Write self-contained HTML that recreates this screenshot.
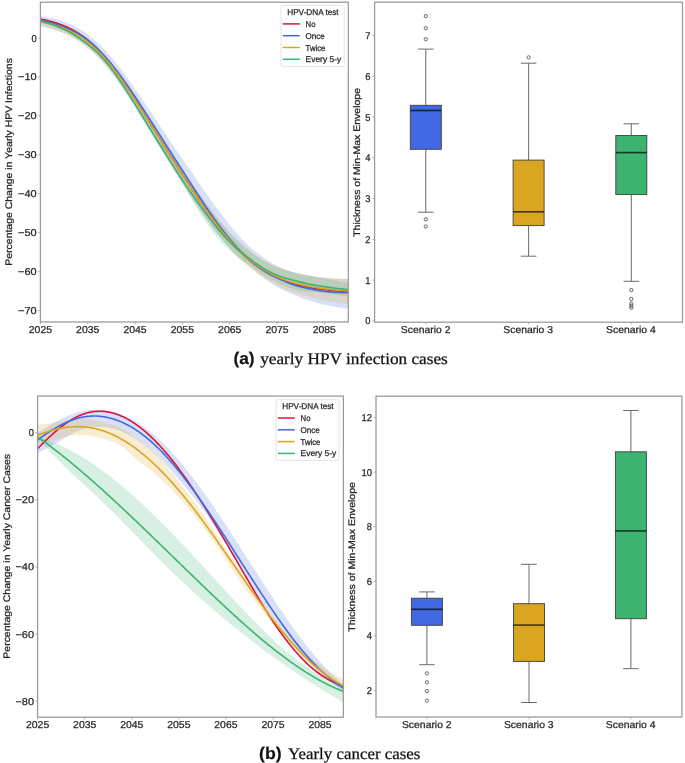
<!DOCTYPE html><html><head><meta charset="utf-8"><style>html,body{margin:0;padding:0;background:#fff;}svg{display:block;will-change:transform;text-rendering:geometricPrecision;}</style></head><body>
<svg width="685" height="763" viewBox="0 0 685 763">
<rect width="685" height="763" fill="#fff"/>
<defs>
<clipPath id="ctl"><rect x="40.40" y="2.20" width="307.90" height="319.80"/></clipPath>
<clipPath id="cbl"><rect x="37.60" y="396.10" width="305.80" height="321.10"/></clipPath>
</defs>
<g clip-path="url(#ctl)">
<path d="M40.40,16.15 L41.40,16.29 L42.40,16.44 L43.40,16.59 L44.40,16.75 L45.40,16.92 L46.40,17.10 L47.40,17.28 L48.40,17.48 L49.40,17.68 L50.40,17.88 L51.40,18.10 L52.40,18.33 L53.40,18.56 L54.40,18.81 L55.40,19.06 L56.40,19.33 L57.40,19.61 L58.40,19.89 L59.40,20.19 L60.40,20.50 L61.40,20.82 L62.40,21.15 L63.40,21.50 L64.40,21.85 L65.40,22.22 L66.40,22.60 L67.40,23.00 L68.40,23.41 L69.40,23.84 L70.40,24.27 L71.40,24.73 L72.40,25.20 L73.40,25.68 L74.40,26.18 L75.40,26.70 L76.40,27.24 L77.40,27.79 L78.40,28.36 L79.40,28.94 L80.40,29.55 L81.40,30.17 L82.40,30.81 L83.40,31.47 L84.40,32.14 L85.40,32.83 L86.40,33.55 L87.40,34.28 L88.40,35.02 L89.40,35.79 L90.40,36.58 L91.40,37.38 L92.40,38.21 L93.40,39.05 L94.40,39.91 L95.40,40.79 L96.40,41.69 L97.40,42.61 L98.40,43.55 L99.40,44.51 L100.40,45.48 L101.40,46.48 L102.40,47.49 L103.40,48.52 L104.40,49.57 L105.40,50.64 L106.40,51.72 L107.40,52.83 L108.40,53.95 L109.40,55.09 L110.40,56.24 L111.40,57.42 L112.40,58.61 L113.40,59.82 L114.40,61.04 L115.40,62.28 L116.40,63.53 L117.40,64.80 L118.40,66.09 L119.40,67.39 L120.40,68.70 L121.40,70.02 L122.40,71.36 L123.40,72.71 L124.40,74.08 L125.40,75.45 L126.40,76.84 L127.40,78.23 L128.40,79.64 L129.40,81.05 L130.40,82.47 L131.40,83.89 L132.40,85.31 L133.40,86.74 L134.40,88.17 L135.40,89.60 L136.40,91.03 L137.40,92.47 L138.40,93.91 L139.40,95.36 L140.40,96.81 L141.40,98.26 L142.40,99.72 L143.40,101.18 L144.40,102.64 L145.40,104.11 L146.40,105.58 L147.40,107.06 L148.40,108.55 L149.40,110.04 L150.40,111.53 L151.40,113.03 L152.40,114.53 L153.40,116.03 L154.40,117.54 L155.40,119.04 L156.40,120.55 L157.40,122.05 L158.40,123.56 L159.40,125.06 L160.40,126.57 L161.40,128.07 L162.40,129.57 L163.40,131.08 L164.40,132.58 L165.40,134.07 L166.40,135.57 L167.40,137.07 L168.40,138.56 L169.40,140.05 L170.40,141.54 L171.40,143.02 L172.40,144.50 L173.40,145.98 L174.40,147.45 L175.40,148.90 L176.40,150.36 L177.40,151.80 L178.40,153.24 L179.40,154.67 L180.40,156.10 L181.40,157.53 L182.40,158.95 L183.40,160.38 L184.40,161.80 L185.40,163.23 L186.40,164.65 L187.40,166.08 L188.40,167.52 L189.40,168.95 L190.40,170.40 L191.40,171.85 L192.40,173.30 L193.40,174.76 L194.40,176.24 L195.40,177.72 L196.40,179.21 L197.40,180.69 L198.40,182.18 L199.40,183.66 L200.40,185.13 L201.40,186.59 L202.40,188.05 L203.40,189.51 L204.40,190.96 L205.40,192.40 L206.40,193.83 L207.40,195.25 L208.40,196.67 L209.40,198.08 L210.40,199.47 L211.40,200.86 L212.40,202.24 L213.40,203.61 L214.40,204.97 L215.40,206.32 L216.40,207.66 L217.40,208.98 L218.40,210.30 L219.40,211.60 L220.40,212.90 L221.40,214.20 L222.40,215.50 L223.40,216.80 L224.40,218.09 L225.40,219.38 L226.40,220.66 L227.40,221.94 L228.40,223.20 L229.40,224.46 L230.40,225.71 L231.40,226.94 L232.40,228.17 L233.40,229.37 L234.40,230.57 L235.40,231.75 L236.40,232.91 L237.40,234.05 L238.40,235.17 L239.40,236.28 L240.40,237.37 L241.40,238.44 L242.40,239.52 L243.40,240.58 L244.40,241.63 L245.40,242.66 L246.40,243.67 L247.40,244.66 L248.40,245.62 L249.40,246.54 L250.40,247.44 L251.40,248.31 L252.40,249.16 L253.40,249.98 L254.40,250.79 L255.40,251.58 L256.40,252.35 L257.40,253.10 L258.40,253.84 L259.40,254.57 L260.40,255.28 L261.40,255.98 L262.40,256.66 L263.40,257.34 L264.40,258.01 L265.40,258.67 L266.40,259.33 L267.40,259.98 L268.40,260.63 L269.40,261.27 L270.40,261.90 L271.40,262.52 L272.40,263.13 L273.40,263.72 L274.40,264.30 L275.40,264.86 L276.40,265.40 L277.40,265.92 L278.40,266.41 L279.40,266.89 L280.40,267.33 L281.40,267.77 L282.40,268.19 L283.40,268.60 L284.40,269.01 L285.40,269.40 L286.40,269.78 L287.40,270.15 L288.40,270.50 L289.40,270.85 L290.40,271.19 L291.40,271.51 L292.40,271.83 L293.40,272.13 L294.40,272.42 L295.40,272.70 L296.40,272.97 L297.40,273.23 L298.40,273.49 L299.40,273.73 L300.40,273.97 L301.40,274.20 L302.40,274.42 L303.40,274.63 L304.40,274.84 L305.40,275.04 L306.40,275.23 L307.40,275.42 L308.40,275.59 L309.40,275.77 L310.40,275.93 L311.40,276.09 L312.40,276.25 L313.40,276.40 L314.40,276.54 L315.40,276.68 L316.40,276.82 L317.40,276.95 L318.40,277.07 L319.40,277.20 L320.40,277.31 L321.40,277.43 L322.40,277.54 L323.40,277.64 L324.40,277.74 L325.40,277.84 L326.40,277.94 L327.40,278.03 L328.40,278.11 L329.40,278.20 L330.40,278.27 L331.40,278.35 L332.40,278.42 L333.40,278.48 L334.40,278.55 L335.40,278.60 L336.40,278.66 L337.40,278.71 L338.40,278.76 L339.40,278.81 L340.40,278.85 L341.40,278.89 L342.40,278.93 L343.40,278.96 L344.40,278.99 L345.40,279.02 L346.40,279.05 L347.40,279.07 L348.30,279.09 L348.30,308.82 L347.40,308.70 L346.40,308.57 L345.40,308.44 L344.40,308.30 L343.40,308.15 L342.40,308.01 L341.40,307.85 L340.40,307.70 L339.40,307.54 L338.40,307.38 L337.40,307.21 L336.40,307.04 L335.40,306.87 L334.40,306.69 L333.40,306.51 L332.40,306.32 L331.40,306.13 L330.40,305.94 L329.40,305.74 L328.40,305.53 L327.40,305.33 L326.40,305.11 L325.40,304.90 L324.40,304.68 L323.40,304.45 L322.40,304.22 L321.40,303.99 L320.40,303.75 L319.40,303.50 L318.40,303.25 L317.40,302.99 L316.40,302.73 L315.40,302.45 L314.40,302.17 L313.40,301.88 L312.40,301.58 L311.40,301.28 L310.40,300.97 L309.40,300.66 L308.40,300.33 L307.40,300.00 L306.40,299.67 L305.40,299.32 L304.40,298.97 L303.40,298.62 L302.40,298.26 L301.40,297.89 L300.40,297.51 L299.40,297.13 L298.40,296.75 L297.40,296.36 L296.40,295.96 L295.40,295.55 L294.40,295.14 L293.40,294.72 L292.40,294.30 L291.40,293.86 L290.40,293.42 L289.40,292.96 L288.40,292.50 L287.40,292.03 L286.40,291.55 L285.40,291.06 L284.40,290.56 L283.40,290.06 L282.40,289.54 L281.40,289.01 L280.40,288.48 L279.40,287.93 L278.40,287.37 L277.40,286.81 L276.40,286.23 L275.40,285.64 L274.40,285.05 L273.40,284.44 L272.40,283.82 L271.40,283.19 L270.40,282.55 L269.40,281.89 L268.40,281.22 L267.40,280.52 L266.40,279.81 L265.40,279.08 L264.40,278.33 L263.40,277.56 L262.40,276.79 L261.40,276.00 L260.40,275.20 L259.40,274.39 L258.40,273.58 L257.40,272.76 L256.40,271.94 L255.40,271.11 L254.40,270.29 L253.40,269.46 L252.40,268.64 L251.40,267.82 L250.40,267.01 L249.40,266.20 L248.40,265.38 L247.40,264.55 L246.40,263.72 L245.40,262.87 L244.40,262.01 L243.40,261.13 L242.40,260.25 L241.40,259.36 L240.40,258.45 L239.40,257.53 L238.40,256.60 L237.40,255.65 L236.40,254.69 L235.40,253.72 L234.40,252.74 L233.40,251.74 L232.40,250.73 L231.40,249.70 L230.40,248.66 L229.40,247.61 L228.40,246.54 L227.40,245.46 L226.40,244.36 L225.40,243.25 L224.40,242.12 L223.40,240.99 L222.40,239.83 L221.40,238.66 L220.40,237.48 L219.40,236.29 L218.40,235.07 L217.40,233.85 L216.40,232.61 L215.40,231.36 L214.40,230.09 L213.40,228.81 L212.40,227.51 L211.40,226.20 L210.40,224.88 L209.40,223.54 L208.40,222.19 L207.40,220.83 L206.40,219.45 L205.40,218.06 L204.40,216.66 L203.40,215.24 L202.40,213.81 L201.40,212.37 L200.40,210.91 L199.40,209.45 L198.40,207.97 L197.40,206.49 L196.40,205.00 L195.40,203.50 L194.40,201.99 L193.40,200.48 L192.40,198.97 L191.40,197.44 L190.40,195.91 L189.40,194.38 L188.40,192.84 L187.40,191.29 L186.40,189.74 L185.40,188.19 L184.40,186.63 L183.40,185.07 L182.40,183.50 L181.40,181.93 L180.40,180.36 L179.40,178.78 L178.40,177.20 L177.40,175.62 L176.40,174.04 L175.40,172.45 L174.40,170.86 L173.40,169.26 L172.40,167.66 L171.40,166.06 L170.40,164.46 L169.40,162.86 L168.40,161.25 L167.40,159.64 L166.40,158.03 L165.40,156.42 L164.40,154.81 L163.40,153.19 L162.40,151.57 L161.40,149.96 L160.40,148.33 L159.40,146.71 L158.40,145.09 L157.40,143.47 L156.40,141.84 L155.40,140.22 L154.40,138.59 L153.40,136.96 L152.40,135.34 L151.40,133.71 L150.40,132.08 L149.40,130.46 L148.40,128.83 L147.40,127.21 L146.40,125.59 L145.40,123.96 L144.40,122.34 L143.40,120.72 L142.40,119.11 L141.40,117.49 L140.40,115.88 L139.40,114.28 L138.40,112.67 L137.40,111.08 L136.40,109.48 L135.40,107.90 L134.40,106.31 L133.40,104.74 L132.40,103.17 L131.40,101.61 L130.40,100.06 L129.40,98.52 L128.40,96.98 L127.40,95.46 L126.40,93.95 L125.40,92.45 L124.40,90.96 L123.40,89.48 L122.40,88.01 L121.40,86.56 L120.40,85.12 L119.40,83.70 L118.40,82.29 L117.40,80.90 L116.40,79.52 L115.40,78.16 L114.40,76.81 L113.40,75.49 L112.40,74.18 L111.40,72.88 L110.40,71.61 L109.40,70.35 L108.40,69.12 L107.40,67.90 L106.40,66.70 L105.40,65.52 L104.40,64.36 L103.40,63.22 L102.40,62.10 L101.40,61.00 L100.40,59.92 L99.40,58.86 L98.40,57.81 L97.40,56.79 L96.40,55.78 L95.40,54.79 L94.40,53.82 L93.40,52.87 L92.40,51.94 L91.40,51.02 L90.40,50.13 L89.40,49.25 L88.40,48.39 L87.40,47.56 L86.40,46.74 L85.40,45.94 L84.40,45.15 L83.40,44.39 L82.40,43.65 L81.40,42.92 L80.40,42.22 L79.40,41.53 L78.40,40.87 L77.40,40.22 L76.40,39.59 L75.40,38.98 L74.40,38.38 L73.40,37.81 L72.40,37.25 L71.40,36.72 L70.40,36.20 L69.40,35.70 L68.40,35.21 L67.40,34.74 L66.40,34.28 L65.40,33.83 L64.40,33.40 L63.40,32.98 L62.40,32.57 L61.40,32.17 L60.40,31.79 L59.40,31.41 L58.40,31.05 L57.40,30.70 L56.40,30.36 L55.40,30.04 L54.40,29.72 L53.40,29.41 L52.40,29.11 L51.40,28.83 L50.40,28.55 L49.40,28.28 L48.40,28.02 L47.40,27.77 L46.40,27.53 L45.40,27.30 L44.40,27.08 L43.40,26.87 L42.40,26.66 L41.40,26.46 L40.40,26.27 Z" fill="#4169e1" fill-opacity="0.2"/>
<path d="M40.40,21.37 L41.40,21.56 L42.40,21.75 L43.40,21.95 L44.40,22.16 L45.40,22.37 L46.40,22.60 L47.40,22.82 L48.40,23.06 L49.40,23.30 L50.40,23.55 L51.40,23.81 L52.40,24.08 L53.40,24.35 L54.40,24.64 L55.40,24.93 L56.40,25.24 L57.40,25.55 L58.40,25.87 L59.40,26.20 L60.40,26.55 L61.40,26.90 L62.40,27.27 L63.40,27.65 L64.40,28.04 L65.40,28.44 L66.40,28.85 L67.40,29.28 L68.40,29.72 L69.40,30.17 L70.40,30.64 L71.40,31.12 L72.40,31.62 L73.40,32.13 L74.40,32.65 L75.40,33.19 L76.40,33.75 L77.40,34.32 L78.40,34.91 L79.40,35.51 L80.40,36.14 L81.40,36.78 L82.40,37.43 L83.40,38.11 L84.40,38.80 L85.40,39.51 L86.40,40.24 L87.40,40.99 L88.40,41.75 L89.40,42.54 L90.40,43.34 L91.40,44.17 L92.40,45.01 L93.40,45.88 L94.40,46.76 L95.40,47.67 L96.40,48.59 L97.40,49.54 L98.40,50.50 L99.40,51.49 L100.40,52.50 L101.40,53.52 L102.40,54.57 L103.40,55.63 L104.40,56.71 L105.40,57.81 L106.40,58.93 L107.40,60.06 L108.40,61.22 L109.40,62.39 L110.40,63.58 L111.40,64.79 L112.40,66.01 L113.40,67.25 L114.40,68.51 L115.40,69.79 L116.40,71.08 L117.40,72.38 L118.40,73.70 L119.40,75.04 L120.40,76.39 L121.40,77.75 L122.40,79.13 L123.40,80.52 L124.40,81.92 L125.40,83.33 L126.40,84.76 L127.40,86.19 L128.40,87.64 L129.40,89.10 L130.40,90.56 L131.40,92.03 L132.40,93.52 L133.40,95.01 L134.40,96.50 L135.40,98.01 L136.40,99.52 L137.40,101.03 L138.40,102.55 L139.40,104.08 L140.40,105.61 L141.40,107.14 L142.40,108.68 L143.40,110.22 L144.40,111.76 L145.40,113.30 L146.40,114.85 L147.40,116.40 L148.40,117.95 L149.40,119.50 L150.40,121.05 L151.40,122.61 L152.40,124.16 L153.40,125.71 L154.40,127.26 L155.40,128.80 L156.40,130.35 L157.40,131.89 L158.40,133.44 L159.40,134.98 L160.40,136.52 L161.40,138.05 L162.40,139.59 L163.40,141.12 L164.40,142.65 L165.40,144.18 L166.40,145.71 L167.40,147.23 L168.40,148.75 L169.40,150.27 L170.40,151.79 L171.40,153.30 L172.40,154.81 L173.40,156.32 L174.40,157.83 L175.40,159.33 L176.40,160.84 L177.40,162.34 L178.40,163.83 L179.40,165.33 L180.40,166.82 L181.40,168.31 L182.40,169.79 L183.40,171.28 L184.40,172.76 L185.40,174.23 L186.40,175.71 L187.40,177.18 L188.40,178.64 L189.40,180.11 L190.40,181.57 L191.40,183.02 L192.40,184.47 L193.40,185.92 L194.40,187.36 L195.40,188.79 L196.40,190.22 L197.40,191.65 L198.40,193.07 L199.40,194.48 L200.40,195.89 L201.40,197.29 L202.40,198.68 L203.40,200.07 L204.40,201.44 L205.40,202.81 L206.40,204.16 L207.40,205.51 L208.40,206.85 L209.40,208.18 L210.40,209.49 L211.40,210.80 L212.40,212.10 L213.40,213.38 L214.40,214.66 L215.40,215.92 L216.40,217.17 L217.40,218.41 L218.40,219.63 L219.40,220.84 L220.40,222.04 L221.40,223.23 L222.40,224.41 L223.40,225.57 L224.40,226.71 L225.40,227.84 L226.40,228.96 L227.40,230.07 L228.40,231.16 L229.40,232.23 L230.40,233.29 L231.40,234.34 L232.40,235.37 L233.40,236.39 L234.40,237.39 L235.40,238.38 L236.40,239.35 L237.40,240.30 L238.40,241.25 L239.40,242.17 L240.40,243.08 L241.40,243.98 L242.40,244.86 L243.40,245.73 L244.40,246.58 L245.40,247.42 L246.40,248.24 L247.40,249.05 L248.40,249.84 L249.40,250.62 L250.40,251.39 L251.40,252.14 L252.40,252.87 L253.40,253.60 L254.40,254.30 L255.40,254.99 L256.40,255.67 L257.40,256.34 L258.40,256.99 L259.40,257.62 L260.40,258.24 L261.40,258.85 L262.40,259.45 L263.40,260.03 L264.40,260.60 L265.40,261.15 L266.40,261.70 L267.40,262.23 L268.40,262.74 L269.40,263.25 L270.40,263.74 L271.40,264.22 L272.40,264.69 L273.40,265.15 L274.40,265.60 L275.40,266.03 L276.40,266.46 L277.40,266.87 L278.40,267.28 L279.40,267.67 L280.40,268.05 L281.40,268.42 L282.40,268.79 L283.40,269.14 L284.40,269.48 L285.40,269.82 L286.40,270.14 L287.40,270.46 L288.40,270.77 L289.40,271.07 L290.40,271.36 L291.40,271.64 L292.40,271.91 L293.40,272.18 L294.40,272.44 L295.40,272.69 L296.40,272.93 L297.40,273.17 L298.40,273.40 L299.40,273.62 L300.40,273.84 L301.40,274.05 L302.40,274.26 L303.40,274.46 L304.40,274.65 L305.40,274.84 L306.40,275.02 L307.40,275.19 L308.40,275.37 L309.40,275.53 L310.40,275.69 L311.40,275.85 L312.40,276.00 L313.40,276.14 L314.40,276.28 L315.40,276.42 L316.40,276.55 L317.40,276.68 L318.40,276.80 L319.40,276.92 L320.40,277.03 L321.40,277.14 L322.40,277.25 L323.40,277.35 L324.40,277.45 L325.40,277.54 L326.40,277.63 L327.40,277.72 L328.40,277.80 L329.40,277.88 L330.40,277.96 L331.40,278.03 L332.40,278.10 L333.40,278.17 L334.40,278.24 L335.40,278.30 L336.40,278.36 L337.40,278.42 L338.40,278.47 L339.40,278.52 L340.40,278.57 L341.40,278.62 L342.40,278.66 L343.40,278.71 L344.40,278.75 L345.40,278.79 L346.40,278.82 L347.40,278.86 L348.30,278.89 L348.30,304.42 L347.40,304.31 L346.40,304.18 L345.40,304.05 L344.40,303.92 L343.40,303.78 L342.40,303.65 L341.40,303.51 L340.40,303.37 L339.40,303.22 L338.40,303.07 L337.40,302.92 L336.40,302.77 L335.40,302.62 L334.40,302.46 L333.40,302.29 L332.40,302.13 L331.40,301.96 L330.40,301.79 L329.40,301.62 L328.40,301.44 L327.40,301.26 L326.40,301.07 L325.40,300.88 L324.40,300.69 L323.40,300.49 L322.40,300.28 L321.40,300.07 L320.40,299.86 L319.40,299.64 L318.40,299.41 L317.40,299.18 L316.40,298.94 L315.40,298.70 L314.40,298.45 L313.40,298.20 L312.40,297.95 L311.40,297.68 L310.40,297.42 L309.40,297.15 L308.40,296.87 L307.40,296.59 L306.40,296.31 L305.40,296.02 L304.40,295.73 L303.40,295.44 L302.40,295.13 L301.40,294.83 L300.40,294.52 L299.40,294.21 L298.40,293.89 L297.40,293.57 L296.40,293.25 L295.40,292.92 L294.40,292.59 L293.40,292.25 L292.40,291.90 L291.40,291.55 L290.40,291.18 L289.40,290.81 L288.40,290.43 L287.40,290.04 L286.40,289.64 L285.40,289.23 L284.40,288.81 L283.40,288.39 L282.40,287.95 L281.40,287.51 L280.40,287.06 L279.40,286.59 L278.40,286.12 L277.40,285.64 L276.40,285.14 L275.40,284.64 L274.40,284.13 L273.40,283.60 L272.40,283.07 L271.40,282.52 L270.40,281.97 L269.40,281.40 L268.40,280.82 L267.40,280.23 L266.40,279.63 L265.40,279.02 L264.40,278.40 L263.40,277.76 L262.40,277.12 L261.40,276.46 L260.40,275.79 L259.40,275.11 L258.40,274.41 L257.40,273.70 L256.40,272.99 L255.40,272.25 L254.40,271.51 L253.40,270.75 L252.40,269.98 L251.40,269.20 L250.40,268.41 L249.40,267.60 L248.40,266.77 L247.40,265.94 L246.40,265.08 L245.40,264.21 L244.40,263.32 L243.40,262.42 L242.40,261.50 L241.40,260.57 L240.40,259.62 L239.40,258.65 L238.40,257.67 L237.40,256.67 L236.40,255.66 L235.40,254.63 L234.40,253.58 L233.40,252.52 L232.40,251.44 L231.40,250.35 L230.40,249.24 L229.40,248.12 L228.40,246.98 L227.40,245.83 L226.40,244.66 L225.40,243.48 L224.40,242.28 L223.40,241.07 L222.40,239.85 L221.40,238.61 L220.40,237.35 L219.40,236.09 L218.40,234.81 L217.40,233.52 L216.40,232.22 L215.40,230.90 L214.40,229.57 L213.40,228.23 L212.40,226.88 L211.40,225.52 L210.40,224.15 L209.40,222.77 L208.40,221.37 L207.40,219.97 L206.40,218.56 L205.40,217.14 L204.40,215.71 L203.40,214.27 L202.40,212.83 L201.40,211.38 L200.40,209.91 L199.40,208.45 L198.40,206.97 L197.40,205.49 L196.40,204.00 L195.40,202.50 L194.40,200.99 L193.40,199.48 L192.40,197.96 L191.40,196.44 L190.40,194.91 L189.40,193.37 L188.40,191.83 L187.40,190.28 L186.40,188.73 L185.40,187.18 L184.40,185.62 L183.40,184.05 L182.40,182.49 L181.40,180.91 L180.40,179.34 L179.40,177.76 L178.40,176.18 L177.40,174.60 L176.40,173.01 L175.40,171.42 L174.40,169.83 L173.40,168.23 L172.40,166.63 L171.40,165.03 L170.40,163.43 L169.40,161.83 L168.40,160.22 L167.40,158.61 L166.40,157.00 L165.40,155.39 L164.40,153.77 L163.40,152.16 L162.40,150.54 L161.40,148.92 L160.40,147.30 L159.40,145.68 L158.40,144.06 L157.40,142.44 L156.40,140.82 L155.40,139.20 L154.40,137.57 L153.40,135.95 L152.40,134.33 L151.40,132.70 L150.40,131.08 L149.40,129.46 L148.40,127.84 L147.40,126.22 L146.40,124.61 L145.40,122.99 L144.40,121.38 L143.40,119.77 L142.40,118.16 L141.40,116.55 L140.40,114.95 L139.40,113.35 L138.40,111.76 L137.40,110.17 L136.40,108.59 L135.40,107.01 L134.40,105.44 L133.40,103.88 L132.40,102.32 L131.40,100.78 L130.40,99.24 L129.40,97.71 L128.40,96.19 L127.40,94.67 L126.40,93.18 L125.40,91.69 L124.40,90.21 L123.40,88.75 L122.40,87.29 L121.40,85.86 L120.40,84.43 L119.40,83.02 L118.40,81.63 L117.40,80.25 L116.40,78.89 L115.40,77.54 L114.40,76.21 L113.40,74.90 L112.40,73.60 L111.40,72.32 L110.40,71.06 L109.40,69.82 L108.40,68.60 L107.40,67.40 L106.40,66.21 L105.40,65.04 L104.40,63.90 L103.40,62.77 L102.40,61.67 L101.40,60.58 L100.40,59.51 L99.40,58.47 L98.40,57.44 L97.40,56.43 L96.40,55.43 L95.40,54.46 L94.40,53.51 L93.40,52.57 L92.40,51.66 L91.40,50.76 L90.40,49.88 L89.40,49.02 L88.40,48.18 L87.40,47.36 L86.40,46.56 L85.40,45.77 L84.40,45.01 L83.40,44.26 L82.40,43.53 L81.40,42.82 L80.40,42.13 L79.40,41.46 L78.40,40.80 L77.40,40.17 L76.40,39.55 L75.40,38.95 L74.40,38.36 L73.40,37.79 L72.40,37.25 L71.40,36.71 L70.40,36.20 L69.40,35.70 L68.40,35.21 L67.40,34.74 L66.40,34.29 L65.40,33.84 L64.40,33.41 L63.40,32.99 L62.40,32.59 L61.40,32.19 L60.40,31.81 L59.40,31.44 L58.40,31.08 L57.40,30.73 L56.40,30.40 L55.40,30.07 L54.40,29.75 L53.40,29.45 L52.40,29.15 L51.40,28.86 L50.40,28.58 L49.40,28.32 L48.40,28.06 L47.40,27.81 L46.40,27.56 L45.40,27.33 L44.40,27.10 L43.40,26.88 L42.40,26.67 L41.40,26.47 L40.40,26.27 Z" fill="#daa520" fill-opacity="0.2"/>
<path d="M40.40,21.36 L41.40,21.54 L42.40,21.71 L43.40,21.90 L44.40,22.09 L45.40,22.28 L46.40,22.49 L47.40,22.70 L48.40,22.92 L49.40,23.14 L50.40,23.38 L51.40,23.62 L52.40,23.87 L53.40,24.13 L54.40,24.40 L55.40,24.67 L56.40,24.96 L57.40,25.26 L58.40,25.56 L59.40,25.88 L60.40,26.21 L61.40,26.55 L62.40,26.90 L63.40,27.26 L64.40,27.63 L65.40,28.02 L66.40,28.41 L67.40,28.82 L68.40,29.25 L69.40,29.68 L70.40,30.13 L71.40,30.60 L72.40,31.08 L73.40,31.57 L74.40,32.08 L75.40,32.60 L76.40,33.14 L77.40,33.70 L78.40,34.27 L79.40,34.86 L80.40,35.47 L81.40,36.09 L82.40,36.73 L83.40,37.39 L84.40,38.06 L85.40,38.75 L86.40,39.47 L87.40,40.20 L88.40,40.95 L89.40,41.72 L90.40,42.51 L91.40,43.31 L92.40,44.14 L93.40,44.99 L94.40,45.86 L95.40,46.75 L96.40,47.65 L97.40,48.58 L98.40,49.53 L99.40,50.50 L100.40,51.49 L101.40,52.50 L102.40,53.53 L103.40,54.58 L104.40,55.65 L105.40,56.73 L106.40,57.84 L107.40,58.97 L108.40,60.11 L109.40,61.28 L110.40,62.46 L111.40,63.66 L112.40,64.88 L113.40,66.12 L114.40,67.38 L115.40,68.65 L116.40,69.94 L117.40,71.24 L118.40,72.56 L119.40,73.90 L120.40,75.25 L121.40,76.61 L122.40,77.99 L123.40,79.38 L124.40,80.79 L125.40,82.21 L126.40,83.64 L127.40,85.08 L128.40,86.53 L129.40,87.99 L130.40,89.46 L131.40,90.94 L132.40,92.42 L133.40,93.92 L134.40,95.42 L135.40,96.93 L136.40,98.44 L137.40,99.97 L138.40,101.49 L139.40,103.02 L140.40,104.56 L141.40,106.10 L142.40,107.64 L143.40,109.19 L144.40,110.73 L145.40,112.28 L146.40,113.84 L147.40,115.39 L148.40,116.94 L149.40,118.50 L150.40,120.06 L151.40,121.61 L152.40,123.17 L153.40,124.72 L154.40,126.28 L155.40,127.83 L156.40,129.38 L157.40,130.93 L158.40,132.48 L159.40,134.03 L160.40,135.58 L161.40,137.12 L162.40,138.67 L163.40,140.21 L164.40,141.75 L165.40,143.29 L166.40,144.82 L167.40,146.35 L168.40,147.89 L169.40,149.42 L170.40,150.94 L171.40,152.47 L172.40,153.99 L173.40,155.51 L174.40,157.03 L175.40,158.55 L176.40,160.06 L177.40,161.57 L178.40,163.08 L179.40,164.59 L180.40,166.09 L181.40,167.59 L182.40,169.09 L183.40,170.59 L184.40,172.08 L185.40,173.57 L186.40,175.05 L187.40,176.54 L188.40,178.01 L189.40,179.49 L190.40,180.96 L191.40,182.43 L192.40,183.89 L193.40,185.35 L194.40,186.80 L195.40,188.25 L196.40,189.69 L197.40,191.12 L198.40,192.55 L199.40,193.98 L200.40,195.39 L201.40,196.81 L202.40,198.21 L203.40,199.60 L204.40,200.99 L205.40,202.37 L206.40,203.74 L207.40,205.10 L208.40,206.45 L209.40,207.80 L210.40,209.13 L211.40,210.45 L212.40,211.76 L213.40,213.06 L214.40,214.35 L215.40,215.63 L216.40,216.90 L217.40,218.15 L218.40,219.39 L219.40,220.62 L220.40,221.83 L221.40,223.04 L222.40,224.23 L223.40,225.40 L224.40,226.56 L225.40,227.71 L226.40,228.84 L227.40,229.96 L228.40,231.06 L229.40,232.15 L230.40,233.22 L231.40,234.28 L232.40,235.31 L233.40,236.33 L234.40,237.32 L235.40,238.30 L236.40,239.27 L237.40,240.21 L238.40,241.15 L239.40,242.06 L240.40,242.97 L241.40,243.86 L242.40,244.74 L243.40,245.60 L244.40,246.46 L245.40,247.30 L246.40,248.14 L247.40,248.97 L248.40,249.79 L249.40,250.60 L250.40,251.41 L251.40,252.20 L252.40,252.98 L253.40,253.74 L254.40,254.48 L255.40,255.22 L256.40,255.93 L257.40,256.63 L258.40,257.32 L259.40,258.00 L260.40,258.65 L261.40,259.30 L262.40,259.93 L263.40,260.55 L264.40,261.15 L265.40,261.74 L266.40,262.31 L267.40,262.86 L268.40,263.39 L269.40,263.91 L270.40,264.41 L271.40,264.89 L272.40,265.35 L273.40,265.80 L274.40,266.24 L275.40,266.66 L276.40,267.07 L277.40,267.47 L278.40,267.86 L279.40,268.23 L280.40,268.60 L281.40,268.95 L282.40,269.27 L283.40,269.58 L284.40,269.87 L285.40,270.14 L286.40,270.41 L287.40,270.66 L288.40,270.91 L289.40,271.16 L290.40,271.40 L291.40,271.65 L292.40,271.90 L293.40,272.16 L294.40,272.42 L295.40,272.70 L296.40,272.97 L297.40,273.24 L298.40,273.51 L299.40,273.76 L300.40,274.01 L301.40,274.26 L302.40,274.50 L303.40,274.74 L304.40,274.97 L305.40,275.19 L306.40,275.41 L307.40,275.63 L308.40,275.84 L309.40,276.05 L310.40,276.25 L311.40,276.45 L312.40,276.65 L313.40,276.84 L314.40,277.03 L315.40,277.21 L316.40,277.39 L317.40,277.57 L318.40,277.74 L319.40,277.91 L320.40,278.08 L321.40,278.24 L322.40,278.40 L323.40,278.56 L324.40,278.71 L325.40,278.87 L326.40,279.02 L327.40,279.18 L328.40,279.35 L329.40,279.53 L330.40,279.70 L331.40,279.89 L332.40,280.07 L333.40,280.26 L334.40,280.46 L335.40,280.66 L336.40,280.86 L337.40,281.06 L338.40,281.27 L339.40,281.47 L340.40,281.68 L341.40,281.89 L342.40,282.11 L343.40,282.32 L344.40,282.53 L345.40,282.74 L346.40,282.96 L347.40,283.17 L348.30,283.36 L348.30,296.87 L347.40,296.70 L346.40,296.51 L345.40,296.32 L344.40,296.14 L343.40,295.96 L342.40,295.78 L341.40,295.61 L340.40,295.44 L339.40,295.27 L338.40,295.11 L337.40,294.95 L336.40,294.79 L335.40,294.63 L334.40,294.48 L333.40,294.33 L332.40,294.19 L331.40,294.04 L330.40,293.90 L329.40,293.77 L328.40,293.63 L327.40,293.50 L326.40,293.38 L325.40,293.25 L324.40,293.13 L323.40,293.02 L322.40,292.92 L321.40,292.83 L320.40,292.75 L319.40,292.67 L318.40,292.59 L317.40,292.53 L316.40,292.46 L315.40,292.40 L314.40,292.33 L313.40,292.27 L312.40,292.20 L311.40,292.13 L310.40,292.06 L309.40,291.99 L308.40,291.91 L307.40,291.82 L306.40,291.72 L305.40,291.61 L304.40,291.50 L303.40,291.37 L302.40,291.23 L301.40,291.07 L300.40,290.91 L299.40,290.72 L298.40,290.52 L297.40,290.30 L296.40,290.06 L295.40,289.80 L294.40,289.52 L293.40,289.22 L292.40,288.90 L291.40,288.57 L290.40,288.22 L289.40,287.86 L288.40,287.48 L287.40,287.08 L286.40,286.67 L285.40,286.25 L284.40,285.81 L283.40,285.37 L282.40,284.91 L281.40,284.44 L280.40,283.95 L279.40,283.46 L278.40,282.96 L277.40,282.44 L276.40,281.92 L275.40,281.39 L274.40,280.86 L273.40,280.31 L272.40,279.76 L271.40,279.20 L270.40,278.64 L269.40,278.07 L268.40,277.49 L267.40,276.91 L266.40,276.33 L265.40,275.74 L264.40,275.15 L263.40,274.55 L262.40,273.93 L261.40,273.30 L260.40,272.65 L259.40,272.00 L258.40,271.32 L257.40,270.63 L256.40,269.93 L255.40,269.22 L254.40,268.48 L253.40,267.74 L252.40,266.98 L251.40,266.20 L250.40,265.41 L249.40,264.62 L248.40,263.93 L247.40,263.33 L246.40,262.79 L245.40,262.28 L244.40,261.80 L243.40,261.30 L242.40,260.77 L241.40,260.19 L240.40,259.52 L239.40,258.78 L238.40,258.01 L237.40,257.23 L236.40,256.44 L235.40,255.63 L234.40,254.80 L233.40,253.95 L232.40,253.09 L231.40,252.21 L230.40,251.31 L229.40,250.39 L228.40,249.45 L227.40,248.49 L226.40,247.51 L225.40,246.51 L224.40,245.49 L223.40,244.45 L222.40,243.38 L221.40,242.29 L220.40,241.18 L219.40,240.05 L218.40,238.89 L217.40,237.71 L216.40,236.51 L215.40,235.28 L214.40,234.02 L213.40,232.74 L212.40,231.44 L211.40,230.10 L210.40,228.75 L209.40,227.36 L208.40,225.96 L207.40,224.53 L206.40,223.08 L205.40,221.61 L204.40,220.12 L203.40,218.61 L202.40,217.09 L201.40,215.55 L200.40,213.99 L199.40,212.42 L198.40,210.84 L197.40,209.24 L196.40,207.63 L195.40,206.01 L194.40,204.39 L193.40,202.75 L192.40,201.11 L191.40,199.46 L190.40,197.80 L189.40,196.14 L188.40,194.47 L187.40,192.80 L186.40,191.13 L185.40,189.46 L184.40,187.78 L183.40,186.11 L182.40,184.44 L181.40,182.77 L180.40,181.10 L179.40,179.43 L178.40,177.77 L177.40,176.11 L176.40,174.46 L175.40,172.81 L174.40,171.17 L173.40,169.53 L172.40,167.89 L171.40,166.25 L170.40,164.61 L169.40,162.98 L168.40,161.34 L167.40,159.70 L166.40,158.06 L165.40,156.41 L164.40,154.77 L163.40,153.13 L162.40,151.49 L161.40,149.84 L160.40,148.20 L159.40,146.55 L158.40,144.91 L157.40,143.26 L156.40,141.61 L155.40,139.96 L154.40,138.31 L153.40,136.65 L152.40,135.00 L151.40,133.35 L150.40,131.69 L149.40,130.04 L148.40,128.38 L147.40,126.72 L146.40,125.06 L145.40,123.40 L144.40,121.75 L143.40,120.09 L142.40,118.43 L141.40,116.78 L140.40,115.13 L139.40,113.48 L138.40,111.83 L137.40,110.19 L136.40,108.55 L135.40,106.92 L134.40,105.29 L133.40,103.67 L132.40,102.06 L131.40,100.45 L130.40,98.85 L129.40,97.26 L128.40,95.68 L127.40,94.11 L126.40,92.55 L125.40,91.00 L124.40,89.46 L123.40,87.94 L122.40,86.43 L121.40,84.93 L120.40,83.44 L119.40,81.97 L118.40,80.52 L117.40,79.08 L116.40,77.66 L115.40,76.26 L114.40,74.87 L113.40,73.50 L112.40,72.15 L111.40,70.82 L110.40,69.51 L109.40,68.22 L108.40,66.95 L107.40,65.70 L106.40,64.46 L105.40,63.25 L104.40,62.07 L103.40,60.90 L102.40,59.75 L101.40,58.63 L100.40,57.53 L99.40,56.45 L98.40,55.39 L97.40,54.35 L96.40,53.33 L95.40,52.33 L94.40,51.35 L93.40,50.40 L92.40,49.46 L91.40,48.55 L90.40,47.65 L89.40,46.77 L88.40,45.92 L87.40,45.08 L86.40,44.27 L85.40,43.47 L84.40,42.69 L83.40,41.93 L82.40,41.19 L81.40,40.47 L80.40,39.76 L79.40,39.07 L78.40,38.40 L77.40,37.75 L76.40,37.11 L75.40,36.49 L74.40,35.89 L73.40,35.30 L72.40,34.73 L71.40,34.18 L70.40,33.63 L69.40,33.11 L68.40,32.59 L67.40,32.10 L66.40,31.61 L65.40,31.14 L64.40,30.68 L63.40,30.24 L62.40,29.80 L61.40,29.38 L60.40,28.97 L59.40,28.58 L58.40,28.19 L57.40,27.82 L56.40,27.45 L55.40,27.10 L54.40,26.76 L53.40,26.42 L52.40,26.10 L51.40,25.79 L50.40,25.48 L49.40,25.18 L48.40,24.90 L47.40,24.62 L46.40,24.35 L45.40,24.09 L44.40,23.83 L43.40,23.58 L42.40,23.34 L41.40,23.11 L40.40,22.89 Z" fill="#3cb371" fill-opacity="0.2"/>
<path d="M40.40,19.07 L41.40,19.26 L42.40,19.46 L43.40,19.66 L44.40,19.87 L45.40,20.09 L46.40,20.31 L47.40,20.55 L48.40,20.79 L49.40,21.04 L50.40,21.30 L51.40,21.57 L52.40,21.84 L53.40,22.13 L54.40,22.43 L55.40,22.73 L56.40,23.05 L57.40,23.38 L58.40,23.71 L59.40,24.06 L60.40,24.42 L61.40,24.79 L62.40,25.17 L63.40,25.57 L64.40,25.98 L65.40,26.39 L66.40,26.83 L67.40,27.27 L68.40,27.73 L69.40,28.21 L70.40,28.69 L71.40,29.20 L72.40,29.72 L73.40,30.26 L74.40,30.82 L75.40,31.40 L76.40,31.99 L77.40,32.61 L78.40,33.24 L79.40,33.89 L80.40,34.56 L81.40,35.25 L82.40,35.96 L83.40,36.68 L84.40,37.43 L85.40,38.20 L86.40,38.98 L87.40,39.79 L88.40,40.61 L89.40,41.45 L90.40,42.32 L91.40,43.20 L92.40,44.10 L93.40,45.02 L94.40,45.97 L95.40,46.93 L96.40,47.91 L97.40,48.91 L98.40,49.92 L99.40,50.96 L100.40,52.02 L101.40,53.09 L102.40,54.19 L103.40,55.31 L104.40,56.45 L105.40,57.61 L106.40,58.79 L107.40,59.99 L108.40,61.21 L109.40,62.45 L110.40,63.71 L111.40,64.99 L112.40,66.29 L113.40,67.60 L114.40,68.93 L115.40,70.28 L116.40,71.65 L117.40,73.03 L118.40,74.42 L119.40,75.83 L120.40,77.25 L121.40,78.69 L122.40,80.14 L123.40,81.60 L124.40,83.07 L125.40,84.55 L126.40,86.05 L127.40,87.55 L128.40,89.06 L129.40,90.58 L130.40,92.10 L131.40,93.64 L132.40,95.18 L133.40,96.73 L134.40,98.29 L135.40,99.85 L136.40,101.42 L137.40,102.99 L138.40,104.58 L139.40,106.16 L140.40,107.75 L141.40,109.34 L142.40,110.94 L143.40,112.54 L144.40,114.14 L145.40,115.74 L146.40,117.34 L147.40,118.95 L148.40,120.56 L149.40,122.16 L150.40,123.77 L151.40,125.38 L152.40,126.99 L153.40,128.60 L154.40,130.20 L155.40,131.81 L156.40,133.42 L157.40,135.02 L158.40,136.62 L159.40,138.23 L160.40,139.83 L161.40,141.43 L162.40,143.02 L163.40,144.62 L164.40,146.21 L165.40,147.81 L166.40,149.40 L167.40,150.99 L168.40,152.57 L169.40,154.16 L170.40,155.74 L171.40,157.32 L172.40,158.90 L173.40,160.48 L174.40,162.05 L175.40,163.63 L176.40,165.20 L177.40,166.77 L178.40,168.33 L179.40,169.90 L180.40,171.46 L181.40,173.01 L182.40,174.57 L183.40,176.12 L184.40,177.67 L185.40,179.22 L186.40,180.76 L187.40,182.30 L188.40,183.84 L189.40,185.37 L190.40,186.90 L191.40,188.43 L192.40,189.95 L193.40,191.46 L194.40,192.97 L195.40,194.48 L196.40,195.98 L197.40,197.47 L198.40,198.96 L199.40,200.44 L200.40,201.92 L201.40,203.39 L202.40,204.85 L203.40,206.30 L204.40,207.75 L205.40,209.19 L206.40,210.62 L207.40,212.04 L208.40,213.45 L209.40,214.85 L210.40,216.24 L211.40,217.62 L212.40,218.99 L213.40,220.35 L214.40,221.70 L215.40,223.04 L216.40,224.36 L217.40,225.68 L218.40,226.98 L219.40,228.26 L220.40,229.54 L221.40,230.80 L222.40,232.05 L223.40,233.29 L224.40,234.51 L225.40,235.71 L226.40,236.91 L227.40,238.08 L228.40,239.25 L229.40,240.40 L230.40,241.53 L231.40,242.65 L232.40,243.75 L233.40,244.84 L234.40,245.91 L235.40,246.97 L236.40,248.01 L237.40,249.03 L238.40,250.04 L239.40,251.03 L240.40,252.01 L241.40,252.97 L242.40,253.92 L243.40,254.85 L244.40,255.76 L245.40,256.66 L246.40,257.54 L247.40,258.41 L248.40,259.26 L249.40,260.09 L250.40,260.91 L251.40,261.71 L252.40,262.50 L253.40,263.28 L254.40,264.04 L255.40,264.79 L256.40,265.52 L257.40,266.24 L258.40,266.94 L259.40,267.63 L260.40,268.31 L261.40,268.97 L262.40,269.62 L263.40,270.25 L264.40,270.87 L265.40,271.48 L266.40,272.08 L267.40,272.66 L268.40,273.23 L269.40,273.78 L270.40,274.33 L271.40,274.86 L272.40,275.38 L273.40,275.88 L274.40,276.38 L275.40,276.86 L276.40,277.33 L277.40,277.80 L278.40,278.24 L279.40,278.68 L280.40,279.11 L281.40,279.53 L282.40,279.93 L283.40,280.33 L284.40,280.71 L285.40,281.09 L286.40,281.45 L287.40,281.80 L288.40,282.15 L289.40,282.48 L290.40,282.81 L291.40,283.13 L292.40,283.43 L293.40,283.73 L294.40,284.02 L295.40,284.30 L296.40,284.57 L297.40,284.83 L298.40,285.09 L299.40,285.33 L300.40,285.57 L301.40,285.80 L302.40,286.02 L303.40,286.23 L304.40,286.44 L305.40,286.64 L306.40,286.83 L307.40,287.02 L308.40,287.20 L309.40,287.38 L310.40,287.55 L311.40,287.72 L312.40,287.88 L313.40,288.04 L314.40,288.19 L315.40,288.34 L316.40,288.48 L317.40,288.62 L318.40,288.76 L319.40,288.89 L320.40,289.03 L321.40,289.16 L322.40,289.28 L323.40,289.41 L324.40,289.53 L325.40,289.65 L326.40,289.77 L327.40,289.89 L328.40,290.00 L329.40,290.11 L330.40,290.21 L331.40,290.32 L332.40,290.42 L333.40,290.52 L334.40,290.62 L335.40,290.71 L336.40,290.80 L337.40,290.89 L338.40,290.98 L339.40,291.06 L340.40,291.15 L341.40,291.23 L342.40,291.31 L343.40,291.39 L344.40,291.47 L345.40,291.54 L346.40,291.62 L347.40,291.69 L348.30,291.76" fill="none" stroke="#dc143c" stroke-width="1.6" stroke-linejoin="round"/>
<path d="M40.40,19.90 L41.40,20.15 L42.40,20.41 L43.40,20.67 L44.40,20.93 L45.40,21.19 L46.40,21.46 L47.40,21.73 L48.40,22.01 L49.40,22.29 L50.40,22.57 L51.40,22.87 L52.40,23.16 L53.40,23.47 L54.40,23.77 L55.40,24.09 L56.40,24.42 L57.40,24.75 L58.40,25.09 L59.40,25.44 L60.40,25.80 L61.40,26.16 L62.40,26.54 L63.40,26.93 L64.40,27.33 L65.40,27.74 L66.40,28.17 L67.40,28.60 L68.40,29.05 L69.40,29.51 L70.40,29.99 L71.40,30.46 L72.40,30.92 L73.40,31.39 L74.40,31.85 L75.40,32.32 L76.40,32.80 L77.40,33.30 L78.40,33.81 L79.40,34.34 L80.40,34.89 L81.40,35.47 L82.40,36.08 L83.40,36.72 L84.40,37.40 L85.40,38.12 L86.40,38.87 L87.40,39.64 L88.40,40.44 L89.40,41.26 L90.40,42.10 L91.40,42.97 L92.40,43.86 L93.40,44.77 L94.40,45.69 L95.40,46.64 L96.40,47.60 L97.40,48.58 L98.40,49.57 L99.40,50.58 L100.40,51.60 L101.40,52.64 L102.40,53.69 L103.40,54.77 L104.40,55.86 L105.40,56.97 L106.40,58.09 L107.40,59.23 L108.40,60.39 L109.40,61.57 L110.40,62.76 L111.40,63.97 L112.40,65.20 L113.40,66.44 L114.40,67.70 L115.40,68.97 L116.40,70.26 L117.40,71.57 L118.40,72.89 L119.40,74.22 L120.40,75.57 L121.40,76.93 L122.40,78.31 L123.40,79.70 L124.40,81.10 L125.40,82.51 L126.40,83.94 L127.40,85.37 L128.40,86.82 L129.40,88.28 L130.40,89.74 L131.40,91.22 L132.40,92.71 L133.40,94.20 L134.40,95.70 L135.40,97.21 L136.40,98.73 L137.40,100.25 L138.40,101.78 L139.40,103.31 L140.40,104.86 L141.40,106.40 L142.40,107.95 L143.40,109.49 L144.40,111.04 L145.40,112.59 L146.40,114.13 L147.40,115.68 L148.40,117.23 L149.40,118.78 L150.40,120.32 L151.40,121.87 L152.40,123.43 L153.40,124.98 L154.40,126.53 L155.40,128.09 L156.40,129.64 L157.40,131.20 L158.40,132.77 L159.40,134.33 L160.40,135.90 L161.40,137.48 L162.40,139.06 L163.40,140.64 L164.40,142.23 L165.40,143.81 L166.40,145.40 L167.40,146.98 L168.40,148.57 L169.40,150.15 L170.40,151.72 L171.40,153.30 L172.40,154.87 L173.40,156.45 L174.40,158.02 L175.40,159.58 L176.40,161.15 L177.40,162.71 L178.40,164.27 L179.40,165.83 L180.40,167.39 L181.40,168.94 L182.40,170.50 L183.40,172.05 L184.40,173.61 L185.40,175.18 L186.40,176.74 L187.40,178.31 L188.40,179.87 L189.40,181.44 L190.40,183.00 L191.40,184.57 L192.40,186.13 L193.40,187.69 L194.40,189.25 L195.40,190.80 L196.40,192.35 L197.40,193.90 L198.40,195.43 L199.40,196.97 L200.40,198.49 L201.40,200.01 L202.40,201.53 L203.40,203.03 L204.40,204.52 L205.40,206.01 L206.40,207.48 L207.40,208.95 L208.40,210.41 L209.40,211.86 L210.40,213.30 L211.40,214.73 L212.40,216.16 L213.40,217.57 L214.40,218.98 L215.40,220.37 L216.40,221.75 L217.40,223.12 L218.40,224.49 L219.40,225.83 L220.40,227.17 L221.40,228.49 L222.40,229.80 L223.40,231.10 L224.40,232.38 L225.40,233.65 L226.40,234.90 L227.40,236.14 L228.40,237.37 L229.40,238.58 L230.40,239.77 L231.40,240.95 L232.40,242.12 L233.40,243.27 L234.40,244.41 L235.40,245.53 L236.40,246.64 L237.40,247.73 L238.40,248.80 L239.40,249.87 L240.40,250.91 L241.40,251.94 L242.40,252.95 L243.40,253.94 L244.40,254.92 L245.40,255.88 L246.40,256.83 L247.40,257.76 L248.40,258.67 L249.40,259.56 L250.40,260.43 L251.40,261.29 L252.40,262.14 L253.40,262.98 L254.40,263.80 L255.40,264.60 L256.40,265.39 L257.40,266.16 L258.40,266.92 L259.40,267.65 L260.40,268.37 L261.40,269.07 L262.40,269.74 L263.40,270.40 L264.40,271.04 L265.40,271.65 L266.40,272.25 L267.40,272.83 L268.40,273.39 L269.40,273.94 L270.40,274.48 L271.40,275.00 L272.40,275.51 L273.40,276.01 L274.40,276.50 L275.40,276.98 L276.40,277.44 L277.40,277.90 L278.40,278.35 L279.40,278.80 L280.40,279.23 L281.40,279.67 L282.40,280.12 L283.40,280.58 L284.40,281.03 L285.40,281.48 L286.40,281.93 L287.40,282.38 L288.40,282.81 L289.40,283.24 L290.40,283.65 L291.40,284.04 L292.40,284.42 L293.40,284.77 L294.40,285.10 L295.40,285.41 L296.40,285.70 L297.40,285.99 L298.40,286.26 L299.40,286.53 L300.40,286.79 L301.40,287.04 L302.40,287.28 L303.40,287.52 L304.40,287.75 L305.40,287.97 L306.40,288.19 L307.40,288.40 L308.40,288.61 L309.40,288.81 L310.40,289.01 L311.40,289.21 L312.40,289.40 L313.40,289.59 L314.40,289.77 L315.40,289.95 L316.40,290.13 L317.40,290.30 L318.40,290.46 L319.40,290.62 L320.40,290.78 L321.40,290.92 L322.40,291.07 L323.40,291.20 L324.40,291.33 L325.40,291.45 L326.40,291.57 L327.40,291.68 L328.40,291.78 L329.40,291.88 L330.40,291.97 L331.40,292.05 L332.40,292.13 L333.40,292.20 L334.40,292.27 L335.40,292.33 L336.40,292.39 L337.40,292.44 L338.40,292.49 L339.40,292.53 L340.40,292.57 L341.40,292.60 L342.40,292.63 L343.40,292.65 L344.40,292.67 L345.40,292.69 L346.40,292.70 L347.40,292.70 L348.30,292.71" fill="none" stroke="#4169e1" stroke-width="1.6" stroke-linejoin="round"/>
<path d="M40.40,21.87 L41.40,22.06 L42.40,22.25 L43.40,22.46 L44.40,22.66 L45.40,22.88 L46.40,23.10 L47.40,23.33 L48.40,23.57 L49.40,23.82 L50.40,24.07 L51.40,24.33 L52.40,24.60 L53.40,24.88 L54.40,25.17 L55.40,25.47 L56.40,25.78 L57.40,26.10 L58.40,26.43 L59.40,26.77 L60.40,27.12 L61.40,27.48 L62.40,27.85 L63.40,28.24 L64.40,28.64 L65.40,29.04 L66.40,29.47 L67.40,29.90 L68.40,30.35 L69.40,30.81 L70.40,31.29 L71.40,31.78 L72.40,32.28 L73.40,32.80 L74.40,33.34 L75.40,33.89 L76.40,34.46 L77.40,35.04 L78.40,35.64 L79.40,36.25 L80.40,36.89 L81.40,37.54 L82.40,38.20 L83.40,38.89 L84.40,39.60 L85.40,40.32 L86.40,41.06 L87.40,41.82 L88.40,42.60 L89.40,43.40 L90.40,44.22 L91.40,45.05 L92.40,45.91 L93.40,46.79 L94.40,47.69 L95.40,48.60 L96.40,49.54 L97.40,50.50 L98.40,51.48 L99.40,52.48 L100.40,53.50 L101.40,54.54 L102.40,55.60 L103.40,56.69 L104.40,57.79 L105.40,58.91 L106.40,60.05 L107.40,61.21 L108.40,62.39 L109.40,63.59 L110.40,64.81 L111.40,66.05 L112.40,67.31 L113.40,68.58 L114.40,69.87 L115.40,71.18 L116.40,72.51 L117.40,73.85 L118.40,75.21 L119.40,76.59 L120.40,77.98 L121.40,79.38 L122.40,80.80 L123.40,82.23 L124.40,83.68 L125.40,85.14 L126.40,86.61 L127.40,88.09 L128.40,89.58 L129.40,91.09 L130.40,92.60 L131.40,94.12 L132.40,95.65 L133.40,97.19 L134.40,98.73 L135.40,100.29 L136.40,101.84 L137.40,103.41 L138.40,104.98 L139.40,106.55 L140.40,108.13 L141.40,109.72 L142.40,111.30 L143.40,112.89 L144.40,114.49 L145.40,116.08 L146.40,117.68 L147.40,119.27 L148.40,120.87 L149.40,122.47 L150.40,124.07 L151.40,125.67 L152.40,127.28 L153.40,128.88 L154.40,130.48 L155.40,132.08 L156.40,133.68 L157.40,135.27 L158.40,136.87 L159.40,138.47 L160.40,140.06 L161.40,141.66 L162.40,143.25 L163.40,144.84 L164.40,146.43 L165.40,148.01 L166.40,149.60 L167.40,151.18 L168.40,152.77 L169.40,154.35 L170.40,155.92 L171.40,157.50 L172.40,159.07 L173.40,160.65 L174.40,162.22 L175.40,163.78 L176.40,165.35 L177.40,166.91 L178.40,168.47 L179.40,170.03 L180.40,171.59 L181.40,173.14 L182.40,174.69 L183.40,176.24 L184.40,177.78 L185.40,179.32 L186.40,180.86 L187.40,182.39 L188.40,183.92 L189.40,185.45 L190.40,186.97 L191.40,188.49 L192.40,190.00 L193.40,191.51 L194.40,193.02 L195.40,194.51 L196.40,196.01 L197.40,197.49 L198.40,198.97 L199.40,200.45 L200.40,201.91 L201.40,203.38 L202.40,204.83 L203.40,206.27 L204.40,207.71 L205.40,209.14 L206.40,210.56 L207.40,211.97 L208.40,213.37 L209.40,214.77 L210.40,216.15 L211.40,217.52 L212.40,218.88 L213.40,220.23 L214.40,221.57 L215.40,222.90 L216.40,224.22 L217.40,225.52 L218.40,226.81 L219.40,228.09 L220.40,229.35 L221.40,230.61 L222.40,231.85 L223.40,233.07 L224.40,234.28 L225.40,235.48 L226.40,236.66 L227.40,237.83 L228.40,238.98 L229.40,240.12 L230.40,241.24 L231.40,242.35 L232.40,243.44 L233.40,244.52 L234.40,245.58 L235.40,246.63 L236.40,247.66 L237.40,248.67 L238.40,249.67 L239.40,250.65 L240.40,251.62 L241.40,252.57 L242.40,253.50 L243.40,254.42 L244.40,255.32 L245.40,256.21 L246.40,257.08 L247.40,257.94 L248.40,258.77 L249.40,259.60 L250.40,260.41 L251.40,261.20 L252.40,261.98 L253.40,262.74 L254.40,263.48 L255.40,264.22 L256.40,264.93 L257.40,265.63 L258.40,266.32 L259.40,267.00 L260.40,267.65 L261.40,268.30 L262.40,268.93 L263.40,269.55 L264.40,270.15 L265.40,270.74 L266.40,271.32 L267.40,271.88 L268.40,272.43 L269.40,272.97 L270.40,273.50 L271.40,274.01 L272.40,274.51 L273.40,275.00 L274.40,275.48 L275.40,275.95 L276.40,276.41 L277.40,276.85 L278.40,277.28 L279.40,277.71 L280.40,278.12 L281.40,278.52 L282.40,278.92 L283.40,279.30 L284.40,279.67 L285.40,280.04 L286.40,280.39 L287.40,280.74 L288.40,281.07 L289.40,281.40 L290.40,281.72 L291.40,282.03 L292.40,282.34 L293.40,282.63 L294.40,282.92 L295.40,283.20 L296.40,283.47 L297.40,283.74 L298.40,284.00 L299.40,284.25 L300.40,284.49 L301.40,284.73 L302.40,284.96 L303.40,285.19 L304.40,285.41 L305.40,285.62 L306.40,285.83 L307.40,286.03 L308.40,286.23 L309.40,286.42 L310.40,286.61 L311.40,286.79 L312.40,286.96 L313.40,287.14 L314.40,287.30 L315.40,287.46 L316.40,287.62 L317.40,287.77 L318.40,287.92 L319.40,288.07 L320.40,288.21 L321.40,288.34 L322.40,288.48 L323.40,288.61 L324.40,288.73 L325.40,288.85 L326.40,288.97 L327.40,289.09 L328.40,289.20 L329.40,289.31 L330.40,289.41 L331.40,289.51 L332.40,289.61 L333.40,289.71 L334.40,289.80 L335.40,289.90 L336.40,289.98 L337.40,290.07 L338.40,290.15 L339.40,290.24 L340.40,290.31 L341.40,290.39 L342.40,290.47 L343.40,290.54 L344.40,290.61 L345.40,290.68 L346.40,290.74 L347.40,290.81 L348.30,290.86" fill="none" stroke="#daa520" stroke-width="1.6" stroke-linejoin="round"/>
<path d="M40.40,20.61 L41.40,20.91 L42.40,21.20 L43.40,21.51 L44.40,21.82 L45.40,22.13 L46.40,22.46 L47.40,22.78 L48.40,23.12 L49.40,23.46 L50.40,23.81 L51.40,24.17 L52.40,24.53 L53.40,24.90 L54.40,25.28 L55.40,25.67 L56.40,26.07 L57.40,26.48 L58.40,26.89 L59.40,27.32 L60.40,27.75 L61.40,28.20 L62.40,28.65 L63.40,29.12 L64.40,29.60 L65.40,30.09 L66.40,30.59 L67.40,31.10 L68.40,31.63 L69.40,32.17 L70.40,32.72 L71.40,33.29 L72.40,33.88 L73.40,34.49 L74.40,35.11 L75.40,35.75 L76.40,36.41 L77.40,37.07 L78.40,37.75 L79.40,38.44 L80.40,39.14 L81.40,39.84 L82.40,40.55 L83.40,41.27 L84.40,41.99 L85.40,42.72 L86.40,43.45 L87.40,44.21 L88.40,44.97 L89.40,45.76 L90.40,46.56 L91.40,47.37 L92.40,48.21 L93.40,49.07 L94.40,49.95 L95.40,50.85 L96.40,51.77 L97.40,52.72 L98.40,53.69 L99.40,54.68 L100.40,55.70 L101.40,56.75 L102.40,57.82 L103.40,58.93 L104.40,60.06 L105.40,61.21 L106.40,62.39 L107.40,63.60 L108.40,64.83 L109.40,66.08 L110.40,67.36 L111.40,68.66 L112.40,69.98 L113.40,71.33 L114.40,72.69 L115.40,74.08 L116.40,75.49 L117.40,76.91 L118.40,78.35 L119.40,79.81 L120.40,81.29 L121.40,82.78 L122.40,84.29 L123.40,85.80 L124.40,87.34 L125.40,88.88 L126.40,90.44 L127.40,92.01 L128.40,93.58 L129.40,95.17 L130.40,96.76 L131.40,98.36 L132.40,99.96 L133.40,101.57 L134.40,103.19 L135.40,104.80 L136.40,106.42 L137.40,108.05 L138.40,109.67 L139.40,111.29 L140.40,112.91 L141.40,114.53 L142.40,116.15 L143.40,117.78 L144.40,119.41 L145.40,121.04 L146.40,122.67 L147.40,124.31 L148.40,125.94 L149.40,127.58 L150.40,129.21 L151.40,130.84 L152.40,132.47 L153.40,134.11 L154.40,135.73 L155.40,137.36 L156.40,138.98 L157.40,140.60 L158.40,142.22 L159.40,143.83 L160.40,145.44 L161.40,147.04 L162.40,148.64 L163.40,150.24 L164.40,151.83 L165.40,153.41 L166.40,155.00 L167.40,156.58 L168.40,158.17 L169.40,159.75 L170.40,161.32 L171.40,162.90 L172.40,164.47 L173.40,166.05 L174.40,167.62 L175.40,169.18 L176.40,170.75 L177.40,172.31 L178.40,173.87 L179.40,175.43 L180.40,176.99 L181.40,178.54 L182.40,180.08 L183.40,181.61 L184.40,183.13 L185.40,184.63 L186.40,186.13 L187.40,187.61 L188.40,189.09 L189.40,190.55 L190.40,192.00 L191.40,193.45 L192.40,194.89 L193.40,196.31 L194.40,197.73 L195.40,199.15 L196.40,200.55 L197.40,201.95 L198.40,203.34 L199.40,204.72 L200.40,206.10 L201.40,207.47 L202.40,208.83 L203.40,210.19 L204.40,211.54 L205.40,212.89 L206.40,214.23 L207.40,215.56 L208.40,216.88 L209.40,218.20 L210.40,219.50 L211.40,220.79 L212.40,222.06 L213.40,223.33 L214.40,224.58 L215.40,225.83 L216.40,227.05 L217.40,228.27 L218.40,229.47 L219.40,230.66 L220.40,231.83 L221.40,232.99 L222.40,234.13 L223.40,235.26 L224.40,236.37 L225.40,237.46 L226.40,238.54 L227.40,239.61 L228.40,240.66 L229.40,241.69 L230.40,242.70 L231.40,243.68 L232.40,244.63 L233.40,245.56 L234.40,246.45 L235.40,247.33 L236.40,248.18 L237.40,249.01 L238.40,249.83 L239.40,250.63 L240.40,251.42 L241.40,252.20 L242.40,252.98 L243.40,253.75 L244.40,254.52 L245.40,255.28 L246.40,256.05 L247.40,256.83 L248.40,257.61 L249.40,258.40 L250.40,259.21 L251.40,260.00 L252.40,260.78 L253.40,261.55 L254.40,262.30 L255.40,263.05 L256.40,263.77 L257.40,264.48 L258.40,265.18 L259.40,265.86 L260.40,266.53 L261.40,267.18 L262.40,267.82 L263.40,268.44 L264.40,269.05 L265.40,269.64 L266.40,270.21 L267.40,270.76 L268.40,271.29 L269.40,271.81 L270.40,272.30 L271.40,272.78 L272.40,273.25 L273.40,273.69 L274.40,274.13 L275.40,274.55 L276.40,274.96 L277.40,275.36 L278.40,275.75 L279.40,276.13 L280.40,276.50 L281.40,276.86 L282.40,277.19 L283.40,277.51 L284.40,277.82 L285.40,278.11 L286.40,278.39 L287.40,278.67 L288.40,278.94 L289.40,279.20 L290.40,279.46 L291.40,279.72 L292.40,279.99 L293.40,280.25 L294.40,280.52 L295.40,280.80 L296.40,281.08 L297.40,281.35 L298.40,281.62 L299.40,281.88 L300.40,282.14 L301.40,282.39 L302.40,282.64 L303.40,282.88 L304.40,283.12 L305.40,283.35 L306.40,283.57 L307.40,283.79 L308.40,284.01 L309.40,284.21 L310.40,284.41 L311.40,284.61 L312.40,284.79 L313.40,284.98 L314.40,285.16 L315.40,285.33 L316.40,285.50 L317.40,285.66 L318.40,285.82 L319.40,285.98 L320.40,286.13 L321.40,286.28 L322.40,286.43 L323.40,286.58 L324.40,286.72 L325.40,286.86 L326.40,287.00 L327.40,287.14 L328.40,287.27 L329.40,287.41 L330.40,287.54 L331.40,287.67 L332.40,287.80 L333.40,287.93 L334.40,288.06 L335.40,288.19 L336.40,288.31 L337.40,288.44 L338.40,288.56 L339.40,288.68 L340.40,288.80 L341.40,288.92 L342.40,289.04 L343.40,289.16 L344.40,289.28 L345.40,289.39 L346.40,289.51 L347.40,289.62 L348.30,289.73" fill="none" stroke="#3cb371" stroke-width="1.6" stroke-linejoin="round"/>
</g>
<rect x="40.40" y="2.20" width="307.90" height="319.80" fill="none" stroke="#999999" stroke-width="1.25"/>
<line x1="38.20" y1="38.10" x2="40.40" y2="38.10" stroke="#9a9a9a" stroke-width="0.8"/>
<text x="36.60" y="41.55" font-size="10.0" text-anchor="end" fill="#262626" font-family='"Liberation Sans", sans-serif' font-weight="normal" stroke="#262626" stroke-width="0.25" textLength="5.20" lengthAdjust="spacingAndGlyphs">0</text>
<line x1="38.20" y1="77.01" x2="40.40" y2="77.01" stroke="#9a9a9a" stroke-width="0.8"/>
<text x="36.60" y="80.46" font-size="10.0" text-anchor="end" fill="#262626" font-family='"Liberation Sans", sans-serif' font-weight="normal" stroke="#262626" stroke-width="0.25" textLength="18.60" lengthAdjust="spacingAndGlyphs">−10</text>
<line x1="38.20" y1="115.92" x2="40.40" y2="115.92" stroke="#9a9a9a" stroke-width="0.8"/>
<text x="36.60" y="119.37" font-size="10.0" text-anchor="end" fill="#262626" font-family='"Liberation Sans", sans-serif' font-weight="normal" stroke="#262626" stroke-width="0.25" textLength="18.60" lengthAdjust="spacingAndGlyphs">−20</text>
<line x1="38.20" y1="154.83" x2="40.40" y2="154.83" stroke="#9a9a9a" stroke-width="0.8"/>
<text x="36.60" y="158.28" font-size="10.0" text-anchor="end" fill="#262626" font-family='"Liberation Sans", sans-serif' font-weight="normal" stroke="#262626" stroke-width="0.25" textLength="18.60" lengthAdjust="spacingAndGlyphs">−30</text>
<line x1="38.20" y1="193.74" x2="40.40" y2="193.74" stroke="#9a9a9a" stroke-width="0.8"/>
<text x="36.60" y="197.19" font-size="10.0" text-anchor="end" fill="#262626" font-family='"Liberation Sans", sans-serif' font-weight="normal" stroke="#262626" stroke-width="0.25" textLength="18.60" lengthAdjust="spacingAndGlyphs">−40</text>
<line x1="38.20" y1="232.65" x2="40.40" y2="232.65" stroke="#9a9a9a" stroke-width="0.8"/>
<text x="36.60" y="236.10" font-size="10.0" text-anchor="end" fill="#262626" font-family='"Liberation Sans", sans-serif' font-weight="normal" stroke="#262626" stroke-width="0.25" textLength="18.60" lengthAdjust="spacingAndGlyphs">−50</text>
<line x1="38.20" y1="271.56" x2="40.40" y2="271.56" stroke="#9a9a9a" stroke-width="0.8"/>
<text x="36.60" y="275.01" font-size="10.0" text-anchor="end" fill="#262626" font-family='"Liberation Sans", sans-serif' font-weight="normal" stroke="#262626" stroke-width="0.25" textLength="18.60" lengthAdjust="spacingAndGlyphs">−60</text>
<line x1="38.20" y1="310.47" x2="40.40" y2="310.47" stroke="#9a9a9a" stroke-width="0.8"/>
<text x="36.60" y="313.92" font-size="10.0" text-anchor="end" fill="#262626" font-family='"Liberation Sans", sans-serif' font-weight="normal" stroke="#262626" stroke-width="0.25" textLength="18.60" lengthAdjust="spacingAndGlyphs">−70</text>
<line x1="40.40" y1="322.00" x2="40.40" y2="324.20" stroke="#9a9a9a" stroke-width="0.8"/>
<text x="40.40" y="332.90" font-size="10.0" text-anchor="middle" fill="#262626" font-family='"Liberation Sans", sans-serif' font-weight="normal" stroke="#262626" stroke-width="0.25" textLength="23.20" lengthAdjust="spacingAndGlyphs">2025</text>
<line x1="87.72" y1="322.00" x2="87.72" y2="324.20" stroke="#9a9a9a" stroke-width="0.8"/>
<text x="87.72" y="332.90" font-size="10.0" text-anchor="middle" fill="#262626" font-family='"Liberation Sans", sans-serif' font-weight="normal" stroke="#262626" stroke-width="0.25" textLength="23.20" lengthAdjust="spacingAndGlyphs">2035</text>
<line x1="135.04" y1="322.00" x2="135.04" y2="324.20" stroke="#9a9a9a" stroke-width="0.8"/>
<text x="135.04" y="332.90" font-size="10.0" text-anchor="middle" fill="#262626" font-family='"Liberation Sans", sans-serif' font-weight="normal" stroke="#262626" stroke-width="0.25" textLength="23.20" lengthAdjust="spacingAndGlyphs">2045</text>
<line x1="182.36" y1="322.00" x2="182.36" y2="324.20" stroke="#9a9a9a" stroke-width="0.8"/>
<text x="182.36" y="332.90" font-size="10.0" text-anchor="middle" fill="#262626" font-family='"Liberation Sans", sans-serif' font-weight="normal" stroke="#262626" stroke-width="0.25" textLength="23.20" lengthAdjust="spacingAndGlyphs">2055</text>
<line x1="229.68" y1="322.00" x2="229.68" y2="324.20" stroke="#9a9a9a" stroke-width="0.8"/>
<text x="229.68" y="332.90" font-size="10.0" text-anchor="middle" fill="#262626" font-family='"Liberation Sans", sans-serif' font-weight="normal" stroke="#262626" stroke-width="0.25" textLength="23.20" lengthAdjust="spacingAndGlyphs">2065</text>
<line x1="277.00" y1="322.00" x2="277.00" y2="324.20" stroke="#9a9a9a" stroke-width="0.8"/>
<text x="277.00" y="332.90" font-size="10.0" text-anchor="middle" fill="#262626" font-family='"Liberation Sans", sans-serif' font-weight="normal" stroke="#262626" stroke-width="0.25" textLength="23.20" lengthAdjust="spacingAndGlyphs">2075</text>
<line x1="324.32" y1="322.00" x2="324.32" y2="324.20" stroke="#9a9a9a" stroke-width="0.8"/>
<text x="324.32" y="332.90" font-size="10.0" text-anchor="middle" fill="#262626" font-family='"Liberation Sans", sans-serif' font-weight="normal" stroke="#262626" stroke-width="0.25" textLength="23.20" lengthAdjust="spacingAndGlyphs">2085</text>
<text x="12.00" y="161.90" font-size="9.5" text-anchor="middle" fill="#262626" font-family='"Liberation Sans", sans-serif' font-weight="normal" stroke="#262626" stroke-width="0.25" textLength="207.60" lengthAdjust="spacingAndGlyphs" transform="rotate(-90 12.00 161.90)">Percentage Change in Yearly HPV Infections</text>
<rect x="281.10" y="5.60" width="63.10" height="61.00" rx="2" ry="2" fill="#ffffff" fill-opacity="0.8" stroke="#dcdcdc" stroke-width="0.8"/>
<text x="312.95" y="15.00" font-size="8.4" text-anchor="middle" fill="#262626" font-family='"Liberation Sans", sans-serif' font-weight="normal" stroke="#262626" stroke-width="0.25" textLength="51.40" lengthAdjust="spacingAndGlyphs">HPV-DNA test</text>
<line x1="282.80" y1="23.90" x2="299.80" y2="23.90" stroke="#dc143c" stroke-width="1.5"/>
<text x="305.60" y="26.90" font-size="8.4" text-anchor="start" fill="#262626" font-family='"Liberation Sans", sans-serif' font-weight="normal" stroke="#262626" stroke-width="0.25" textLength="9.90" lengthAdjust="spacingAndGlyphs">No</text>
<line x1="282.80" y1="35.70" x2="299.80" y2="35.70" stroke="#4169e1" stroke-width="1.5"/>
<text x="305.60" y="38.70" font-size="8.4" text-anchor="start" fill="#262626" font-family='"Liberation Sans", sans-serif' font-weight="normal" stroke="#262626" stroke-width="0.25" textLength="19.20" lengthAdjust="spacingAndGlyphs">Once</text>
<line x1="282.80" y1="47.50" x2="299.80" y2="47.50" stroke="#daa520" stroke-width="1.5"/>
<text x="305.60" y="50.50" font-size="8.4" text-anchor="start" fill="#262626" font-family='"Liberation Sans", sans-serif' font-weight="normal" stroke="#262626" stroke-width="0.25" textLength="19.80" lengthAdjust="spacingAndGlyphs">Twice</text>
<line x1="282.80" y1="59.30" x2="299.80" y2="59.30" stroke="#3cb371" stroke-width="1.5"/>
<text x="305.60" y="62.30" font-size="8.4" text-anchor="start" fill="#262626" font-family='"Liberation Sans", sans-serif' font-weight="normal" stroke="#262626" stroke-width="0.25" textLength="35.60" lengthAdjust="spacingAndGlyphs">Every 5-y</text>
<rect x="374.60" y="2.20" width="307.90" height="320.00" fill="none" stroke="#999999" stroke-width="1.25"/>
<line x1="372.40" y1="320.90" x2="374.60" y2="320.90" stroke="#9a9a9a" stroke-width="0.8"/>
<text x="370.40" y="324.35" font-size="10.0" text-anchor="end" fill="#262626" font-family='"Liberation Sans", sans-serif' font-weight="normal" stroke="#262626" stroke-width="0.25" textLength="5.20" lengthAdjust="spacingAndGlyphs">0</text>
<line x1="372.40" y1="280.13" x2="374.60" y2="280.13" stroke="#9a9a9a" stroke-width="0.8"/>
<text x="370.40" y="283.58" font-size="10.0" text-anchor="end" fill="#262626" font-family='"Liberation Sans", sans-serif' font-weight="normal" stroke="#262626" stroke-width="0.25" textLength="5.20" lengthAdjust="spacingAndGlyphs">1</text>
<line x1="372.40" y1="239.36" x2="374.60" y2="239.36" stroke="#9a9a9a" stroke-width="0.8"/>
<text x="370.40" y="242.81" font-size="10.0" text-anchor="end" fill="#262626" font-family='"Liberation Sans", sans-serif' font-weight="normal" stroke="#262626" stroke-width="0.25" textLength="5.20" lengthAdjust="spacingAndGlyphs">2</text>
<line x1="372.40" y1="198.59" x2="374.60" y2="198.59" stroke="#9a9a9a" stroke-width="0.8"/>
<text x="370.40" y="202.04" font-size="10.0" text-anchor="end" fill="#262626" font-family='"Liberation Sans", sans-serif' font-weight="normal" stroke="#262626" stroke-width="0.25" textLength="5.20" lengthAdjust="spacingAndGlyphs">3</text>
<line x1="372.40" y1="157.82" x2="374.60" y2="157.82" stroke="#9a9a9a" stroke-width="0.8"/>
<text x="370.40" y="161.27" font-size="10.0" text-anchor="end" fill="#262626" font-family='"Liberation Sans", sans-serif' font-weight="normal" stroke="#262626" stroke-width="0.25" textLength="5.20" lengthAdjust="spacingAndGlyphs">4</text>
<line x1="372.40" y1="117.05" x2="374.60" y2="117.05" stroke="#9a9a9a" stroke-width="0.8"/>
<text x="370.40" y="120.50" font-size="10.0" text-anchor="end" fill="#262626" font-family='"Liberation Sans", sans-serif' font-weight="normal" stroke="#262626" stroke-width="0.25" textLength="5.20" lengthAdjust="spacingAndGlyphs">5</text>
<line x1="372.40" y1="76.28" x2="374.60" y2="76.28" stroke="#9a9a9a" stroke-width="0.8"/>
<text x="370.40" y="79.73" font-size="10.0" text-anchor="end" fill="#262626" font-family='"Liberation Sans", sans-serif' font-weight="normal" stroke="#262626" stroke-width="0.25" textLength="5.20" lengthAdjust="spacingAndGlyphs">6</text>
<line x1="372.40" y1="35.51" x2="374.60" y2="35.51" stroke="#9a9a9a" stroke-width="0.8"/>
<text x="370.40" y="38.96" font-size="10.0" text-anchor="end" fill="#262626" font-family='"Liberation Sans", sans-serif' font-weight="normal" stroke="#262626" stroke-width="0.25" textLength="5.20" lengthAdjust="spacingAndGlyphs">7</text>
<line x1="425.90" y1="322.20" x2="425.90" y2="324.40" stroke="#9a9a9a" stroke-width="0.8"/>
<text x="425.60" y="332.80" font-size="10.0" text-anchor="middle" fill="#262626" font-family='"Liberation Sans", sans-serif' font-weight="normal" stroke="#262626" stroke-width="0.25" textLength="49.70" lengthAdjust="spacingAndGlyphs">Scenario 2</text>
<line x1="528.50" y1="322.20" x2="528.50" y2="324.40" stroke="#9a9a9a" stroke-width="0.8"/>
<text x="528.20" y="332.80" font-size="10.0" text-anchor="middle" fill="#262626" font-family='"Liberation Sans", sans-serif' font-weight="normal" stroke="#262626" stroke-width="0.25" textLength="49.70" lengthAdjust="spacingAndGlyphs">Scenario 3</text>
<line x1="631.20" y1="322.20" x2="631.20" y2="324.40" stroke="#9a9a9a" stroke-width="0.8"/>
<text x="630.90" y="332.80" font-size="10.0" text-anchor="middle" fill="#262626" font-family='"Liberation Sans", sans-serif' font-weight="normal" stroke="#262626" stroke-width="0.25" textLength="49.70" lengthAdjust="spacingAndGlyphs">Scenario 4</text>
<text x="360.20" y="162.40" font-size="9.5" text-anchor="middle" fill="#262626" font-family='"Liberation Sans", sans-serif' font-weight="normal" stroke="#262626" stroke-width="0.25" textLength="148.90" lengthAdjust="spacingAndGlyphs" transform="rotate(-90 360.20 162.40)">Thickness of Min-Max Envelope</text>
<line x1="425.80" y1="49.10" x2="425.80" y2="105.30" stroke="#6a6a6a" stroke-width="1.0"/>
<line x1="425.80" y1="149.30" x2="425.80" y2="212.20" stroke="#6a6a6a" stroke-width="1.0"/>
<line x1="418.00" y1="49.10" x2="433.60" y2="49.10" stroke="#6a6a6a" stroke-width="1.0"/>
<line x1="418.00" y1="212.20" x2="433.60" y2="212.20" stroke="#6a6a6a" stroke-width="1.0"/>
<rect x="410.30" y="105.30" width="31.00" height="44.00" fill="#4169e1" stroke="#404040" stroke-width="0.9"/>
<line x1="410.30" y1="110.50" x2="441.30" y2="110.50" stroke="#000" stroke-opacity="0.68" stroke-width="1.6"/>
<circle cx="425.80" cy="16.10" r="1.65" fill="none" stroke="#444" stroke-width="0.8"/>
<circle cx="425.80" cy="28.30" r="1.65" fill="none" stroke="#444" stroke-width="0.8"/>
<circle cx="425.80" cy="39.20" r="1.65" fill="none" stroke="#444" stroke-width="0.8"/>
<circle cx="425.80" cy="219.30" r="1.65" fill="none" stroke="#444" stroke-width="0.8"/>
<circle cx="425.80" cy="226.50" r="1.65" fill="none" stroke="#444" stroke-width="0.8"/>
<line x1="528.60" y1="63.20" x2="528.60" y2="160.10" stroke="#6a6a6a" stroke-width="1.0"/>
<line x1="528.60" y1="225.60" x2="528.60" y2="256.20" stroke="#6a6a6a" stroke-width="1.0"/>
<line x1="520.80" y1="63.20" x2="536.40" y2="63.20" stroke="#6a6a6a" stroke-width="1.0"/>
<line x1="520.80" y1="256.20" x2="536.40" y2="256.20" stroke="#6a6a6a" stroke-width="1.0"/>
<rect x="513.10" y="160.10" width="31.00" height="65.50" fill="#daa520" stroke="#404040" stroke-width="0.9"/>
<line x1="513.10" y1="211.80" x2="544.10" y2="211.80" stroke="#000" stroke-opacity="0.68" stroke-width="1.6"/>
<circle cx="528.60" cy="57.40" r="1.65" fill="none" stroke="#444" stroke-width="0.8"/>
<line x1="631.30" y1="123.80" x2="631.30" y2="135.50" stroke="#6a6a6a" stroke-width="1.0"/>
<line x1="631.30" y1="194.50" x2="631.30" y2="281.30" stroke="#6a6a6a" stroke-width="1.0"/>
<line x1="623.50" y1="123.80" x2="639.10" y2="123.80" stroke="#6a6a6a" stroke-width="1.0"/>
<line x1="623.50" y1="281.30" x2="639.10" y2="281.30" stroke="#6a6a6a" stroke-width="1.0"/>
<rect x="615.80" y="135.50" width="31.00" height="59.00" fill="#3cb371" stroke="#404040" stroke-width="0.9"/>
<line x1="615.80" y1="152.60" x2="646.80" y2="152.60" stroke="#000" stroke-opacity="0.68" stroke-width="1.6"/>
<circle cx="631.30" cy="290.10" r="1.65" fill="none" stroke="#444" stroke-width="0.8"/>
<circle cx="631.30" cy="299.00" r="1.65" fill="none" stroke="#444" stroke-width="0.8"/>
<circle cx="631.30" cy="303.70" r="1.65" fill="none" stroke="#444" stroke-width="0.8"/>
<circle cx="631.30" cy="305.70" r="1.65" fill="none" stroke="#444" stroke-width="0.8"/>
<circle cx="631.30" cy="307.70" r="1.65" fill="none" stroke="#444" stroke-width="0.8"/>
<text x="233.4" y="363.6" font-size="16.8" fill="#111" stroke="#111" stroke-width="0.15" font-family='"Liberation Sans", sans-serif' font-weight="bold" textLength="21.2" lengthAdjust="spacingAndGlyphs">(a)</text>
<text x="260.2" y="363.6" font-size="16.2" fill="#111" stroke="#111" stroke-width="0.25" font-family='"Liberation Serif", serif' textLength="187.6" lengthAdjust="spacingAndGlyphs">yearly HPV infection cases</text>
<g clip-path="url(#cbl)">
<path d="M37.60,432.91 L38.60,432.24 L39.60,431.57 L40.60,430.90 L41.60,430.24 L42.60,429.59 L43.60,428.94 L44.60,428.30 L45.60,427.67 L46.60,427.04 L47.60,426.42 L48.60,425.80 L49.60,425.20 L50.60,424.60 L51.60,424.01 L52.60,423.43 L53.60,422.86 L54.60,422.29 L55.60,421.74 L56.60,421.19 L57.60,420.65 L58.60,420.13 L59.60,419.61 L60.60,419.11 L61.60,418.61 L62.60,418.13 L63.60,417.65 L64.60,417.19 L65.60,416.74 L66.60,416.30 L67.60,415.87 L68.60,415.46 L69.60,415.06 L70.60,414.67 L71.60,414.30 L72.60,413.93 L73.60,413.58 L74.60,413.25 L75.60,412.93 L76.60,412.62 L77.60,412.33 L78.60,412.06 L79.60,411.80 L80.60,411.55 L81.60,411.32 L82.60,411.11 L83.60,410.91 L84.60,410.72 L85.60,410.55 L86.60,410.40 L87.60,410.26 L88.60,410.14 L89.60,410.03 L90.60,409.94 L91.60,409.87 L92.60,409.81 L93.60,409.76 L94.60,409.73 L95.60,409.72 L96.60,409.72 L97.60,409.73 L98.60,409.76 L99.60,409.81 L100.60,409.87 L101.60,409.95 L102.60,410.04 L103.60,410.15 L104.60,410.27 L105.60,410.41 L106.60,410.56 L107.60,410.73 L108.60,410.91 L109.60,411.11 L110.60,411.32 L111.60,411.55 L112.60,411.79 L113.60,412.05 L114.60,412.32 L115.60,412.61 L116.60,412.91 L117.60,413.23 L118.60,413.56 L119.60,413.90 L120.60,414.27 L121.60,414.64 L122.60,415.03 L123.60,415.44 L124.60,415.86 L125.60,416.30 L126.60,416.75 L127.60,417.21 L128.60,417.69 L129.60,418.19 L130.60,418.70 L131.60,419.22 L132.60,419.76 L133.60,420.31 L134.60,420.88 L135.60,421.47 L136.60,422.06 L137.60,422.67 L138.60,423.30 L139.60,423.94 L140.60,424.60 L141.60,425.27 L142.60,425.95 L143.60,426.65 L144.60,427.36 L145.60,428.09 L146.60,428.83 L147.60,429.59 L148.60,430.36 L149.60,431.15 L150.60,431.95 L151.60,432.76 L152.60,433.59 L153.60,434.43 L154.60,435.29 L155.60,436.16 L156.60,437.04 L157.60,437.94 L158.60,438.86 L159.60,439.79 L160.60,440.73 L161.60,441.68 L162.60,442.65 L163.60,443.64 L164.60,444.64 L165.60,445.65 L166.60,446.67 L167.60,447.71 L168.60,448.76 L169.60,449.82 L170.60,450.89 L171.60,451.98 L172.60,453.08 L173.60,454.19 L174.60,455.31 L175.60,456.45 L176.60,457.60 L177.60,458.75 L178.60,459.92 L179.60,461.10 L180.60,462.30 L181.60,463.50 L182.60,464.71 L183.60,465.94 L184.60,467.17 L185.60,468.41 L186.60,469.67 L187.60,470.93 L188.60,472.21 L189.60,473.49 L190.60,474.78 L191.60,476.08 L192.60,477.39 L193.60,478.71 L194.60,480.04 L195.60,481.38 L196.60,482.73 L197.60,484.08 L198.60,485.44 L199.60,486.81 L200.60,488.19 L201.60,489.57 L202.60,490.97 L203.60,492.37 L204.60,493.77 L205.60,495.19 L206.60,496.61 L207.60,498.04 L208.60,499.47 L209.60,500.91 L210.60,502.36 L211.60,503.81 L212.60,505.27 L213.60,506.74 L214.60,508.21 L215.60,509.68 L216.60,511.16 L217.60,512.65 L218.60,514.14 L219.60,515.64 L220.60,517.14 L221.60,518.64 L222.60,520.15 L223.60,521.66 L224.60,523.18 L225.60,524.70 L226.60,526.23 L227.60,527.76 L228.60,529.29 L229.60,530.82 L230.60,532.36 L231.60,533.90 L232.60,535.44 L233.60,536.99 L234.60,538.54 L235.60,540.09 L236.60,541.64 L237.60,543.20 L238.60,544.75 L239.60,546.31 L240.60,547.87 L241.60,549.43 L242.60,551.00 L243.60,552.56 L244.60,554.12 L245.60,555.69 L246.60,557.25 L247.60,558.82 L248.60,560.38 L249.60,561.95 L250.60,563.52 L251.60,565.08 L252.60,566.65 L253.60,568.21 L254.60,569.77 L255.60,571.34 L256.60,572.90 L257.60,574.46 L258.60,576.02 L259.60,577.57 L260.60,579.13 L261.60,580.68 L262.60,582.23 L263.60,583.78 L264.60,585.33 L265.60,586.88 L266.60,588.42 L267.60,589.96 L268.60,591.49 L269.60,593.03 L270.60,594.56 L271.60,596.08 L272.60,597.61 L273.60,599.12 L274.60,600.64 L275.60,602.15 L276.60,603.66 L277.60,605.16 L278.60,606.66 L279.60,608.15 L280.60,609.63 L281.60,611.11 L282.60,612.59 L283.60,614.06 L284.60,615.52 L285.60,616.98 L286.60,618.43 L287.60,619.88 L288.60,621.31 L289.60,622.74 L290.60,624.16 L291.60,625.58 L292.60,626.99 L293.60,628.39 L294.60,629.78 L295.60,631.16 L296.60,632.54 L297.60,633.90 L298.60,635.26 L299.60,636.61 L300.60,637.94 L301.60,639.27 L302.60,640.59 L303.60,641.90 L304.60,643.20 L305.60,644.49 L306.60,645.76 L307.60,647.03 L308.60,648.29 L309.60,649.53 L310.60,650.76 L311.60,651.98 L312.60,653.19 L313.60,654.39 L314.60,655.58 L315.60,656.75 L316.60,657.91 L317.60,659.05 L318.60,660.19 L319.60,661.31 L320.60,662.42 L321.60,663.51 L322.60,664.59 L323.60,665.66 L324.60,666.71 L325.60,667.76 L326.60,668.79 L327.60,669.81 L328.60,670.82 L329.60,671.82 L330.60,672.81 L331.60,673.80 L332.60,674.77 L333.60,675.73 L334.60,676.69 L335.60,677.64 L336.60,678.58 L337.60,679.51 L338.60,680.44 L339.60,681.36 L340.60,682.28 L341.60,683.19 L342.60,684.09 L343.40,684.81 L343.40,691.08 L342.60,690.54 L341.60,689.87 L340.60,689.19 L339.60,688.51 L338.60,687.82 L337.60,687.12 L336.60,686.41 L335.60,685.69 L334.60,684.97 L333.60,684.23 L332.60,683.49 L331.60,682.73 L330.60,681.97 L329.60,681.19 L328.60,680.40 L327.60,679.60 L326.60,678.79 L325.60,677.96 L324.60,677.13 L323.60,676.27 L322.60,675.41 L321.60,674.53 L320.60,673.63 L319.60,672.72 L318.60,671.80 L317.60,670.85 L316.60,669.90 L315.60,668.93 L314.60,667.94 L313.60,666.94 L312.60,665.92 L311.60,664.89 L310.60,663.85 L309.60,662.79 L308.60,661.72 L307.60,660.64 L306.60,659.54 L305.60,658.43 L304.60,657.30 L303.60,656.17 L302.60,655.03 L301.60,653.89 L300.60,652.74 L299.60,651.58 L298.60,650.41 L297.60,649.24 L296.60,648.06 L295.60,646.87 L294.60,645.67 L293.60,644.46 L292.60,643.25 L291.60,642.02 L290.60,640.79 L289.60,639.55 L288.60,638.29 L287.60,637.03 L286.60,635.76 L285.60,634.47 L284.60,633.18 L283.60,631.88 L282.60,630.56 L281.60,629.24 L280.60,627.90 L279.60,626.55 L278.60,625.20 L277.60,623.84 L276.60,622.48 L275.60,621.11 L274.60,619.74 L273.60,618.36 L272.60,616.98 L271.60,615.59 L270.60,614.20 L269.60,612.80 L268.60,611.40 L267.60,609.99 L266.60,608.58 L265.60,607.15 L264.60,605.73 L263.60,604.29 L262.60,602.85 L261.60,601.40 L260.60,599.94 L259.60,598.47 L258.60,597.00 L257.60,595.52 L256.60,594.03 L255.60,592.53 L254.60,591.02 L253.60,589.50 L252.60,587.97 L251.60,586.44 L250.60,584.89 L249.60,583.33 L248.60,581.76 L247.60,580.18 L246.60,578.59 L245.60,576.98 L244.60,575.36 L243.60,573.74 L242.60,572.10 L241.60,570.46 L240.60,568.82 L239.60,567.16 L238.60,565.50 L237.60,563.84 L236.60,562.17 L235.60,560.51 L234.60,558.84 L233.60,557.17 L232.60,555.50 L231.60,553.83 L230.60,552.16 L229.60,550.50 L228.60,548.84 L227.60,547.18 L226.60,545.53 L225.60,543.89 L224.60,542.25 L223.60,540.63 L222.60,539.01 L221.60,537.40 L220.60,535.80 L219.60,534.22 L218.60,532.64 L217.60,531.08 L216.60,529.54 L215.60,528.01 L214.60,526.49 L213.60,524.99 L212.60,523.50 L211.60,522.03 L210.60,520.56 L209.60,519.11 L208.60,517.68 L207.60,516.25 L206.60,514.84 L205.60,513.43 L204.60,512.04 L203.60,510.66 L202.60,509.29 L201.60,507.93 L200.60,506.59 L199.60,505.25 L198.60,503.92 L197.60,502.60 L196.60,501.30 L195.60,500.00 L194.60,498.71 L193.60,497.43 L192.60,496.16 L191.60,494.90 L190.60,493.65 L189.60,492.40 L188.60,491.17 L187.60,489.94 L186.60,488.72 L185.60,487.51 L184.60,486.30 L183.60,485.10 L182.60,483.91 L181.60,482.73 L180.60,481.55 L179.60,480.38 L178.60,479.22 L177.60,478.06 L176.60,476.90 L175.60,475.76 L174.60,474.62 L173.60,473.48 L172.60,472.35 L171.60,471.22 L170.60,470.10 L169.60,468.98 L168.60,467.88 L167.60,466.78 L166.60,465.70 L165.60,464.63 L164.60,463.57 L163.60,462.52 L162.60,461.49 L161.60,460.47 L160.60,459.46 L159.60,458.47 L158.60,457.48 L157.60,456.52 L156.60,455.56 L155.60,454.62 L154.60,453.70 L153.60,452.78 L152.60,451.89 L151.60,451.00 L150.60,450.13 L149.60,449.28 L148.60,448.43 L147.60,447.61 L146.60,446.79 L145.60,446.00 L144.60,445.21 L143.60,444.44 L142.60,443.69 L141.60,442.95 L140.60,442.23 L139.60,441.52 L138.60,440.82 L137.60,440.15 L136.60,439.48 L135.60,438.83 L134.60,438.20 L133.60,437.58 L132.60,436.98 L131.60,436.40 L130.60,435.83 L129.60,435.27 L128.60,434.73 L127.60,434.21 L126.60,433.70 L125.60,433.21 L124.60,432.74 L123.60,432.28 L122.60,431.84 L121.60,431.41 L120.60,431.01 L119.60,430.61 L118.60,430.24 L117.60,429.89 L116.60,429.55 L115.60,429.24 L114.60,428.94 L113.60,428.66 L112.60,428.41 L111.60,428.17 L110.60,427.95 L109.60,427.74 L108.60,427.56 L107.60,427.40 L106.60,427.25 L105.60,427.13 L104.60,427.02 L103.60,426.93 L102.60,426.86 L101.60,426.80 L100.60,426.77 L99.60,426.75 L98.60,426.75 L97.60,426.77 L96.60,426.81 L95.60,426.87 L94.60,426.94 L93.60,427.03 L92.60,427.14 L91.60,427.27 L90.60,427.41 L89.60,427.57 L88.60,427.75 L87.60,427.95 L86.60,428.16 L85.60,428.39 L84.60,428.64 L83.60,428.91 L82.60,429.19 L81.60,429.49 L80.60,429.81 L79.60,430.15 L78.60,430.51 L77.60,430.91 L76.60,431.34 L75.60,431.80 L74.60,432.29 L73.60,432.80 L72.60,433.33 L71.60,433.88 L70.60,434.45 L69.60,435.03 L68.60,435.63 L67.60,436.23 L66.60,436.84 L65.60,437.46 L64.60,438.08 L63.60,438.71 L62.60,439.33 L61.60,439.94 L60.60,440.56 L59.60,441.16 L58.60,441.75 L57.60,442.34 L56.60,442.90 L55.60,443.47 L54.60,444.03 L53.60,444.59 L52.60,445.15 L51.60,445.71 L50.60,446.27 L49.60,446.82 L48.60,447.37 L47.60,447.92 L46.60,448.47 L45.60,449.01 L44.60,449.55 L43.60,450.08 L42.60,450.62 L41.60,451.14 L40.60,451.67 L39.60,452.19 L38.60,452.70 L37.60,453.21 Z" fill="#4169e1" fill-opacity="0.2"/>
<path d="M37.60,424.72 L38.60,424.60 L39.60,424.49 L40.60,424.37 L41.60,424.26 L42.60,424.16 L43.60,424.05 L44.60,423.94 L45.60,423.83 L46.60,423.72 L47.60,423.60 L48.60,423.48 L49.60,423.35 L50.60,423.21 L51.60,423.06 L52.60,422.90 L53.60,422.73 L54.60,422.55 L55.60,422.35 L56.60,422.14 L57.60,421.91 L58.60,421.69 L59.60,421.47 L60.60,421.25 L61.60,421.03 L62.60,420.83 L63.60,420.62 L64.60,420.43 L65.60,420.24 L66.60,420.06 L67.60,419.89 L68.60,419.73 L69.60,419.58 L70.60,419.44 L71.60,419.31 L72.60,419.19 L73.60,419.09 L74.60,419.00 L75.60,418.93 L76.60,418.87 L77.60,418.83 L78.60,418.81 L79.60,418.80 L80.60,418.81 L81.60,418.84 L82.60,418.88 L83.60,418.93 L84.60,419.00 L85.60,419.08 L86.60,419.17 L87.60,419.28 L88.60,419.40 L89.60,419.54 L90.60,419.69 L91.60,419.85 L92.60,420.02 L93.60,420.20 L94.60,420.40 L95.60,420.61 L96.60,420.83 L97.60,421.06 L98.60,421.30 L99.60,421.56 L100.60,421.82 L101.60,422.07 L102.60,422.31 L103.60,422.54 L104.60,422.77 L105.60,423.00 L106.60,423.23 L107.60,423.46 L108.60,423.70 L109.60,423.95 L110.60,424.21 L111.60,424.48 L112.60,424.78 L113.60,425.09 L114.60,425.42 L115.60,425.78 L116.60,426.17 L117.60,426.59 L118.60,427.04 L119.60,427.52 L120.60,428.04 L121.60,428.58 L122.60,429.12 L123.60,429.68 L124.60,430.26 L125.60,430.84 L126.60,431.44 L127.60,432.06 L128.60,432.68 L129.60,433.32 L130.60,433.97 L131.60,434.64 L132.60,435.31 L133.60,436.00 L134.60,436.70 L135.60,437.42 L136.60,438.14 L137.60,438.88 L138.60,439.63 L139.60,440.40 L140.60,441.17 L141.60,441.96 L142.60,442.76 L143.60,443.57 L144.60,444.39 L145.60,445.23 L146.60,446.08 L147.60,446.94 L148.60,447.81 L149.60,448.69 L150.60,449.59 L151.60,450.49 L152.60,451.41 L153.60,452.34 L154.60,453.28 L155.60,454.24 L156.60,455.23 L157.60,456.25 L158.60,457.31 L159.60,458.39 L160.60,459.50 L161.60,460.63 L162.60,461.78 L163.60,462.94 L164.60,464.11 L165.60,465.30 L166.60,466.49 L167.60,467.69 L168.60,468.88 L169.60,470.07 L170.60,471.26 L171.60,472.46 L172.60,473.66 L173.60,474.87 L174.60,476.08 L175.60,477.31 L176.60,478.54 L177.60,479.78 L178.60,481.03 L179.60,482.28 L180.60,483.55 L181.60,484.82 L182.60,486.09 L183.60,487.38 L184.60,488.68 L185.60,489.98 L186.60,491.29 L187.60,492.61 L188.60,493.94 L189.60,495.27 L190.60,496.62 L191.60,497.97 L192.60,499.33 L193.60,500.70 L194.60,502.08 L195.60,503.47 L196.60,504.86 L197.60,506.27 L198.60,507.68 L199.60,509.10 L200.60,510.53 L201.60,511.96 L202.60,513.40 L203.60,514.85 L204.60,516.31 L205.60,517.78 L206.60,519.26 L207.60,520.75 L208.60,522.25 L209.60,523.76 L210.60,525.28 L211.60,526.80 L212.60,528.33 L213.60,529.87 L214.60,531.41 L215.60,532.95 L216.60,534.49 L217.60,536.03 L218.60,537.57 L219.60,539.11 L220.60,540.65 L221.60,542.18 L222.60,543.71 L223.60,545.23 L224.60,546.74 L225.60,548.26 L226.60,549.78 L227.60,551.29 L228.60,552.81 L229.60,554.32 L230.60,555.84 L231.60,557.35 L232.60,558.86 L233.60,560.37 L234.60,561.88 L235.60,563.39 L236.60,564.90 L237.60,566.40 L238.60,567.90 L239.60,569.40 L240.60,570.89 L241.60,572.38 L242.60,573.87 L243.60,575.35 L244.60,576.83 L245.60,578.31 L246.60,579.78 L247.60,581.24 L248.60,582.70 L249.60,584.16 L250.60,585.60 L251.60,587.05 L252.60,588.49 L253.60,589.93 L254.60,591.36 L255.60,592.79 L256.60,594.22 L257.60,595.64 L258.60,597.05 L259.60,598.46 L260.60,599.87 L261.60,601.27 L262.60,602.66 L263.60,604.05 L264.60,605.43 L265.60,606.80 L266.60,608.17 L267.60,609.53 L268.60,610.88 L269.60,612.22 L270.60,613.56 L271.60,614.89 L272.60,616.21 L273.60,617.52 L274.60,618.83 L275.60,620.12 L276.60,621.41 L277.60,622.68 L278.60,623.95 L279.60,625.20 L280.60,626.45 L281.60,627.68 L282.60,628.90 L283.60,630.10 L284.60,631.29 L285.60,632.47 L286.60,633.64 L287.60,634.79 L288.60,635.93 L289.60,637.05 L290.60,638.16 L291.60,639.26 L292.60,640.34 L293.60,641.41 L294.60,642.47 L295.60,643.52 L296.60,644.55 L297.60,645.56 L298.60,646.57 L299.60,647.56 L300.60,648.54 L301.60,649.51 L302.60,650.47 L303.60,651.41 L304.60,652.34 L305.60,653.26 L306.60,654.17 L307.60,655.07 L308.60,655.95 L309.60,656.82 L310.60,657.68 L311.60,658.53 L312.60,659.37 L313.60,660.20 L314.60,661.02 L315.60,661.82 L316.60,662.62 L317.60,663.40 L318.60,664.18 L319.60,664.94 L320.60,665.69 L321.60,666.43 L322.60,667.16 L323.60,667.87 L324.60,668.58 L325.60,669.26 L326.60,669.94 L327.60,670.60 L328.60,671.25 L329.60,671.89 L330.60,672.51 L331.60,673.12 L332.60,673.71 L333.60,674.30 L334.60,674.87 L335.60,675.44 L336.60,675.99 L337.60,676.53 L338.60,677.06 L339.60,677.59 L340.60,678.10 L341.60,678.61 L342.60,679.11 L343.40,679.50 L343.40,689.00 L342.60,688.55 L341.60,687.98 L340.60,687.41 L339.60,686.83 L338.60,686.24 L337.60,685.64 L336.60,685.03 L335.60,684.42 L334.60,683.79 L333.60,683.16 L332.60,682.51 L331.60,681.85 L330.60,681.18 L329.60,680.50 L328.60,679.81 L327.60,679.10 L326.60,678.39 L325.60,677.66 L324.60,676.91 L323.60,676.16 L322.60,675.39 L321.60,674.62 L320.60,673.83 L319.60,673.03 L318.60,672.21 L317.60,671.39 L316.60,670.55 L315.60,669.70 L314.60,668.85 L313.60,667.97 L312.60,667.09 L311.60,666.20 L310.60,665.29 L309.60,664.38 L308.60,663.45 L307.60,662.51 L306.60,661.56 L305.60,660.60 L304.60,659.63 L303.60,658.64 L302.60,657.65 L301.60,656.64 L300.60,655.63 L299.60,654.60 L298.60,653.56 L297.60,652.52 L296.60,651.46 L295.60,650.39 L294.60,649.31 L293.60,648.22 L292.60,647.12 L291.60,646.00 L290.60,644.88 L289.60,643.75 L288.60,642.61 L287.60,641.46 L286.60,640.31 L285.60,639.15 L284.60,637.98 L283.60,636.80 L282.60,635.62 L281.60,634.43 L280.60,633.24 L279.60,632.04 L278.60,630.83 L277.60,629.62 L276.60,628.40 L275.60,627.18 L274.60,625.95 L273.60,624.71 L272.60,623.47 L271.60,622.23 L270.60,620.98 L269.60,619.73 L268.60,618.47 L267.60,617.21 L266.60,615.94 L265.60,614.67 L264.60,613.40 L263.60,612.12 L262.60,610.84 L261.60,609.56 L260.60,608.27 L259.60,606.98 L258.60,605.68 L257.60,604.39 L256.60,603.14 L255.60,601.92 L254.60,600.72 L253.60,599.55 L252.60,598.37 L251.60,597.20 L250.60,596.00 L249.60,594.78 L248.60,593.53 L247.60,592.23 L246.60,590.87 L245.60,589.44 L244.60,587.98 L243.60,586.48 L242.60,584.96 L241.60,583.42 L240.60,581.87 L239.60,580.32 L238.60,578.76 L237.60,577.21 L236.60,575.67 L235.60,574.15 L234.60,572.65 L233.60,571.15 L232.60,569.66 L231.60,568.16 L230.60,566.67 L229.60,565.18 L228.60,563.69 L227.60,562.20 L226.60,560.71 L225.60,559.22 L224.60,557.74 L223.60,556.26 L222.60,554.79 L221.60,553.31 L220.60,551.84 L219.60,550.38 L218.60,548.92 L217.60,547.46 L216.60,546.01 L215.60,544.56 L214.60,543.12 L213.60,541.68 L212.60,540.25 L211.60,538.83 L210.60,537.41 L209.60,536.00 L208.60,534.59 L207.60,533.20 L206.60,531.81 L205.60,530.42 L204.60,529.05 L203.60,527.69 L202.60,526.33 L201.60,524.99 L200.60,523.65 L199.60,522.33 L198.60,521.02 L197.60,519.71 L196.60,518.42 L195.60,517.14 L194.60,515.87 L193.60,514.60 L192.60,513.35 L191.60,512.11 L190.60,510.89 L189.60,509.67 L188.60,508.46 L187.60,507.26 L186.60,506.08 L185.60,504.90 L184.60,503.74 L183.60,502.59 L182.60,501.44 L181.60,500.31 L180.60,499.19 L179.60,498.08 L178.60,496.98 L177.60,495.89 L176.60,494.81 L175.60,493.74 L174.60,492.68 L173.60,491.63 L172.60,490.59 L171.60,489.56 L170.60,488.54 L169.60,487.52 L168.60,486.52 L167.60,485.53 L166.60,484.55 L165.60,483.58 L164.60,482.62 L163.60,481.67 L162.60,480.72 L161.60,479.79 L160.60,478.87 L159.60,477.95 L158.60,477.04 L157.60,476.15 L156.60,475.26 L155.60,474.38 L154.60,473.51 L153.60,472.67 L152.60,471.85 L151.60,471.05 L150.60,470.27 L149.60,469.50 L148.60,468.75 L147.60,468.00 L146.60,467.26 L145.60,466.52 L144.60,465.78 L143.60,465.04 L142.60,464.29 L141.60,463.53 L140.60,462.76 L139.60,461.97 L138.60,461.14 L137.60,460.29 L136.60,459.40 L135.60,458.49 L134.60,457.56 L133.60,456.62 L132.60,455.67 L131.60,454.72 L130.60,453.78 L129.60,452.84 L128.60,451.92 L127.60,451.01 L126.60,450.13 L125.60,449.28 L124.60,448.47 L123.60,447.69 L122.60,446.97 L121.60,446.29 L120.60,445.67 L119.60,445.11 L118.60,444.58 L117.60,444.07 L116.60,443.58 L115.60,443.12 L114.60,442.67 L113.60,442.25 L112.60,441.84 L111.60,441.45 L110.60,441.08 L109.60,440.72 L108.60,440.38 L107.60,440.04 L106.60,439.73 L105.60,439.42 L104.60,439.12 L103.60,438.83 L102.60,438.55 L101.60,438.28 L100.60,438.02 L99.60,437.76 L98.60,437.51 L97.60,437.27 L96.60,437.04 L95.60,436.83 L94.60,436.62 L93.60,436.43 L92.60,436.25 L91.60,436.08 L90.60,435.93 L89.60,435.79 L88.60,435.66 L87.60,435.54 L86.60,435.44 L85.60,435.35 L84.60,435.27 L83.60,435.21 L82.60,435.16 L81.60,435.13 L80.60,435.11 L79.60,435.11 L78.60,435.12 L77.60,435.14 L76.60,435.18 L75.60,435.26 L74.60,435.36 L73.60,435.50 L72.60,435.66 L71.60,435.85 L70.60,436.05 L69.60,436.28 L68.60,436.52 L67.60,436.78 L66.60,437.05 L65.60,437.33 L64.60,437.61 L63.60,437.89 L62.60,438.18 L61.60,438.46 L60.60,438.74 L59.60,439.01 L58.60,439.26 L57.60,439.51 L56.60,439.74 L55.60,439.97 L54.60,440.20 L53.60,440.44 L52.60,440.68 L51.60,440.92 L50.60,441.16 L49.60,441.40 L48.60,441.64 L47.60,441.89 L46.60,442.13 L45.60,442.38 L44.60,442.62 L43.60,442.87 L42.60,443.11 L41.60,443.36 L40.60,443.60 L39.60,443.84 L38.60,444.08 L37.60,444.32 Z" fill="#daa520" fill-opacity="0.2"/>
<path d="M37.60,437.18 L38.60,437.45 L39.60,437.72 L40.60,438.01 L41.60,438.30 L42.60,438.61 L43.60,438.92 L44.60,439.24 L45.60,439.56 L46.60,439.90 L47.60,440.25 L48.60,440.60 L49.60,440.96 L50.60,441.33 L51.60,441.71 L52.60,442.09 L53.60,442.49 L54.60,442.89 L55.60,443.30 L56.60,443.72 L57.60,444.15 L58.60,444.58 L59.60,445.02 L60.60,445.47 L61.60,445.93 L62.60,446.39 L63.60,446.87 L64.60,447.35 L65.60,447.83 L66.60,448.33 L67.60,448.83 L68.60,449.34 L69.60,449.86 L70.60,450.39 L71.60,450.92 L72.60,451.46 L73.60,452.00 L74.60,452.56 L75.60,453.12 L76.60,453.68 L77.60,454.26 L78.60,454.84 L79.60,455.43 L80.60,456.03 L81.60,456.63 L82.60,457.24 L83.60,457.85 L84.60,458.47 L85.60,459.10 L86.60,459.74 L87.60,460.38 L88.60,461.03 L89.60,461.69 L90.60,462.35 L91.60,463.01 L92.60,463.69 L93.60,464.37 L94.60,465.06 L95.60,465.75 L96.60,466.45 L97.60,467.15 L98.60,467.86 L99.60,468.58 L100.60,469.30 L101.60,470.03 L102.60,470.77 L103.60,471.51 L104.60,472.25 L105.60,473.01 L106.60,473.76 L107.60,474.53 L108.60,475.29 L109.60,476.07 L110.60,476.85 L111.60,477.63 L112.60,478.42 L113.60,479.22 L114.60,480.02 L115.60,480.83 L116.60,481.64 L117.60,482.46 L118.60,483.28 L119.60,484.11 L120.60,484.94 L121.60,485.77 L122.60,486.62 L123.60,487.46 L124.60,488.32 L125.60,489.17 L126.60,490.03 L127.60,490.90 L128.60,491.77 L129.60,492.64 L130.60,493.52 L131.60,494.41 L132.60,495.30 L133.60,496.19 L134.60,497.09 L135.60,497.99 L136.60,498.90 L137.60,499.81 L138.60,500.72 L139.60,501.64 L140.60,502.56 L141.60,503.49 L142.60,504.42 L143.60,505.36 L144.60,506.30 L145.60,507.24 L146.60,508.18 L147.60,509.13 L148.60,510.09 L149.60,511.05 L150.60,512.01 L151.60,512.97 L152.60,513.94 L153.60,514.91 L154.60,515.89 L155.60,516.87 L156.60,517.85 L157.60,518.84 L158.60,519.83 L159.60,520.82 L160.60,521.81 L161.60,522.81 L162.60,523.81 L163.60,524.82 L164.60,525.83 L165.60,526.84 L166.60,527.85 L167.60,528.87 L168.60,529.89 L169.60,530.91 L170.60,531.93 L171.60,532.96 L172.60,533.99 L173.60,535.02 L174.60,536.06 L175.60,537.09 L176.60,538.14 L177.60,539.18 L178.60,540.22 L179.60,541.27 L180.60,542.32 L181.60,543.37 L182.60,544.43 L183.60,545.48 L184.60,546.54 L185.60,547.60 L186.60,548.66 L187.60,549.73 L188.60,550.79 L189.60,551.86 L190.60,552.93 L191.60,554.00 L192.60,555.07 L193.60,556.15 L194.60,557.23 L195.60,558.30 L196.60,559.38 L197.60,560.46 L198.60,561.54 L199.60,562.63 L200.60,563.71 L201.60,564.80 L202.60,565.88 L203.60,566.97 L204.60,568.06 L205.60,569.14 L206.60,570.23 L207.60,571.32 L208.60,572.41 L209.60,573.50 L210.60,574.59 L211.60,575.68 L212.60,576.77 L213.60,577.86 L214.60,578.96 L215.60,580.05 L216.60,581.14 L217.60,582.23 L218.60,583.32 L219.60,584.41 L220.60,585.50 L221.60,586.58 L222.60,587.67 L223.60,588.76 L224.60,589.84 L225.60,590.93 L226.60,592.01 L227.60,593.09 L228.60,594.17 L229.60,595.25 L230.60,596.33 L231.60,597.41 L232.60,598.48 L233.60,599.55 L234.60,600.63 L235.60,601.69 L236.60,602.76 L237.60,603.83 L238.60,604.89 L239.60,605.95 L240.60,607.00 L241.60,608.06 L242.60,609.11 L243.60,610.16 L244.60,611.21 L245.60,612.25 L246.60,613.29 L247.60,614.33 L248.60,615.36 L249.60,616.39 L250.60,617.42 L251.60,618.45 L252.60,619.47 L253.60,620.48 L254.60,621.50 L255.60,622.50 L256.60,623.51 L257.60,624.51 L258.60,625.51 L259.60,626.50 L260.60,627.49 L261.60,628.47 L262.60,629.45 L263.60,630.43 L264.60,631.39 L265.60,632.36 L266.60,633.32 L267.60,634.28 L268.60,635.23 L269.60,636.17 L270.60,637.11 L271.60,638.04 L272.60,638.97 L273.60,639.89 L274.60,640.81 L275.60,641.72 L276.60,642.63 L277.60,643.53 L278.60,644.42 L279.60,645.31 L280.60,646.19 L281.60,647.07 L282.60,647.94 L283.60,648.80 L284.60,649.65 L285.60,650.50 L286.60,651.34 L287.60,652.18 L288.60,653.01 L289.60,653.83 L290.60,654.64 L291.60,655.45 L292.60,656.25 L293.60,657.04 L294.60,657.82 L295.60,658.60 L296.60,659.37 L297.60,660.13 L298.60,660.88 L299.60,661.63 L300.60,662.37 L301.60,663.09 L302.60,663.82 L303.60,664.53 L304.60,665.23 L305.60,665.93 L306.60,666.61 L307.60,667.29 L308.60,667.96 L309.60,668.62 L310.60,669.27 L311.60,669.91 L312.60,670.54 L313.60,671.16 L314.60,671.78 L315.60,672.38 L316.60,672.98 L317.60,673.56 L318.60,674.14 L319.60,674.70 L320.60,675.26 L321.60,675.80 L322.60,676.34 L323.60,676.86 L324.60,677.37 L325.60,677.88 L326.60,678.37 L327.60,678.85 L328.60,679.32 L329.60,679.78 L330.60,680.23 L331.60,680.67 L332.60,681.10 L333.60,681.52 L334.60,681.92 L335.60,682.32 L336.60,682.70 L337.60,683.07 L338.60,683.43 L339.60,683.77 L340.60,684.11 L341.60,684.43 L342.60,684.74 L343.40,684.98 L343.40,702.50 L342.60,702.04 L341.60,701.46 L340.60,700.88 L339.60,700.29 L338.60,699.71 L337.60,699.12 L336.60,698.53 L335.60,697.94 L334.60,697.35 L333.60,696.75 L332.60,696.15 L331.60,695.55 L330.60,694.95 L329.60,694.35 L328.60,693.74 L327.60,693.13 L326.60,692.52 L325.60,691.91 L324.60,691.30 L323.60,690.68 L322.60,690.06 L321.60,689.44 L320.60,688.82 L319.60,688.20 L318.60,687.57 L317.60,686.94 L316.60,686.31 L315.60,685.68 L314.60,685.05 L313.60,684.41 L312.60,683.77 L311.60,683.13 L310.60,682.49 L309.60,681.84 L308.60,681.20 L307.60,680.55 L306.60,679.90 L305.60,679.24 L304.60,678.59 L303.60,677.93 L302.60,677.27 L301.60,676.61 L300.60,675.95 L299.60,675.28 L298.60,674.62 L297.60,673.95 L296.60,673.28 L295.60,672.60 L294.60,671.93 L293.60,671.25 L292.60,670.57 L291.60,669.89 L290.60,669.20 L289.60,668.52 L288.60,667.83 L287.60,667.14 L286.60,666.44 L285.60,665.75 L284.60,665.05 L283.60,664.35 L282.60,663.65 L281.60,662.95 L280.60,662.24 L279.60,661.53 L278.60,660.82 L277.60,660.11 L276.60,659.40 L275.60,658.68 L274.60,657.96 L273.60,657.24 L272.60,656.52 L271.60,655.79 L270.60,655.07 L269.60,654.34 L268.60,653.61 L267.60,652.87 L266.60,652.14 L265.60,651.40 L264.60,650.66 L263.60,649.91 L262.60,649.17 L261.60,648.42 L260.60,647.67 L259.60,646.92 L258.60,646.17 L257.60,645.41 L256.60,644.65 L255.60,643.89 L254.60,643.13 L253.60,642.37 L252.60,641.60 L251.60,640.83 L250.60,640.06 L249.60,639.28 L248.60,638.51 L247.60,637.73 L246.60,636.95 L245.60,636.17 L244.60,635.38 L243.60,634.59 L242.60,633.80 L241.60,633.01 L240.60,632.22 L239.60,631.42 L238.60,630.62 L237.60,629.82 L236.60,629.02 L235.60,628.21 L234.60,627.41 L233.60,626.60 L232.60,625.78 L231.60,624.97 L230.60,624.15 L229.60,623.33 L228.60,622.51 L227.60,621.69 L226.60,620.86 L225.60,620.03 L224.60,619.20 L223.60,618.37 L222.60,617.53 L221.60,616.70 L220.60,615.86 L219.60,615.01 L218.60,614.17 L217.60,613.32 L216.60,612.47 L215.60,611.62 L214.60,610.77 L213.60,609.91 L212.60,609.05 L211.60,608.19 L210.60,607.32 L209.60,606.46 L208.60,605.59 L207.60,604.72 L206.60,603.85 L205.60,602.97 L204.60,602.09 L203.60,601.21 L202.60,600.33 L201.60,599.44 L200.60,598.55 L199.60,597.66 L198.60,596.77 L197.60,595.87 L196.60,594.98 L195.60,594.07 L194.60,593.17 L193.60,592.26 L192.60,591.35 L191.60,590.44 L190.60,589.52 L189.60,588.61 L188.60,587.69 L187.60,586.76 L186.60,585.84 L185.60,584.91 L184.60,583.97 L183.60,583.04 L182.60,582.10 L181.60,581.16 L180.60,580.21 L179.60,579.27 L178.60,578.32 L177.60,577.36 L176.60,576.41 L175.60,575.45 L174.60,574.48 L173.60,573.52 L172.60,572.55 L171.60,571.57 L170.60,570.60 L169.60,569.62 L168.60,568.64 L167.60,567.65 L166.60,566.67 L165.60,565.68 L164.60,564.68 L163.60,563.69 L162.60,562.69 L161.60,561.69 L160.60,560.69 L159.60,559.68 L158.60,558.68 L157.60,557.67 L156.60,556.66 L155.60,555.65 L154.60,554.63 L153.60,553.62 L152.60,552.60 L151.60,551.58 L150.60,550.56 L149.60,549.54 L148.60,548.52 L147.60,547.50 L146.60,546.48 L145.60,545.45 L144.60,544.43 L143.60,543.40 L142.60,542.38 L141.60,541.35 L140.60,540.32 L139.60,539.30 L138.60,538.27 L137.60,537.24 L136.60,536.22 L135.60,535.19 L134.60,534.16 L133.60,533.14 L132.60,532.11 L131.60,531.09 L130.60,530.06 L129.60,529.04 L128.60,528.02 L127.60,527.00 L126.60,525.98 L125.60,524.96 L124.60,523.94 L123.60,522.92 L122.60,521.91 L121.60,520.90 L120.60,519.88 L119.60,518.87 L118.60,517.87 L117.60,516.86 L116.60,515.86 L115.60,514.85 L114.60,513.85 L113.60,512.86 L112.60,511.86 L111.60,510.87 L110.60,509.88 L109.60,508.89 L108.60,507.91 L107.60,506.93 L106.60,505.95 L105.60,504.97 L104.60,504.00 L103.60,503.03 L102.60,502.06 L101.60,501.10 L100.60,500.14 L99.60,499.19 L98.60,498.24 L97.60,497.29 L96.60,496.35 L95.60,495.41 L94.60,494.47 L93.60,493.54 L92.60,492.62 L91.60,491.69 L90.60,490.77 L89.60,489.85 L88.60,488.94 L87.60,488.02 L86.60,487.11 L85.60,486.20 L84.60,485.29 L83.60,484.37 L82.60,483.46 L81.60,482.55 L80.60,481.64 L79.60,480.72 L78.60,479.81 L77.60,478.89 L76.60,477.97 L75.60,477.04 L74.60,476.11 L73.60,475.18 L72.60,474.25 L71.60,473.31 L70.60,472.36 L69.60,471.41 L68.60,470.46 L67.60,469.49 L66.60,468.53 L65.60,467.55 L64.60,466.57 L63.60,465.58 L62.60,464.58 L61.60,463.58 L60.60,462.57 L59.60,461.56 L58.60,460.53 L57.60,459.50 L56.60,458.47 L55.60,457.43 L54.60,456.38 L53.60,455.33 L52.60,454.27 L51.60,453.20 L50.60,452.13 L49.60,451.05 L48.60,449.97 L47.60,448.88 L46.60,447.79 L45.60,446.69 L44.60,445.59 L43.60,444.48 L42.60,443.36 L41.60,442.24 L40.60,441.12 L39.60,439.99 L38.60,438.86 L37.60,437.72 Z" fill="#3cb371" fill-opacity="0.2"/>
<path d="M37.60,448.78 L38.60,447.75 L39.60,446.72 L40.60,445.70 L41.60,444.68 L42.60,443.66 L43.60,442.66 L44.60,441.66 L45.60,440.67 L46.60,439.69 L47.60,438.72 L48.60,437.76 L49.60,436.82 L50.60,435.89 L51.60,434.97 L52.60,434.06 L53.60,433.17 L54.60,432.29 L55.60,431.42 L56.60,430.57 L57.60,429.74 L58.60,428.92 L59.60,428.11 L60.60,427.32 L61.60,426.55 L62.60,425.79 L63.60,425.04 L64.60,424.32 L65.60,423.61 L66.60,422.92 L67.60,422.24 L68.60,421.59 L69.60,420.95 L70.60,420.32 L71.60,419.72 L72.60,419.14 L73.60,418.57 L74.60,418.03 L75.60,417.50 L76.60,416.99 L77.60,416.51 L78.60,416.04 L79.60,415.59 L80.60,415.17 L81.60,414.77 L82.60,414.38 L83.60,414.02 L84.60,413.68 L85.60,413.37 L86.60,413.07 L87.60,412.80 L88.60,412.55 L89.60,412.33 L90.60,412.12 L91.60,411.94 L92.60,411.78 L93.60,411.64 L94.60,411.52 L95.60,411.42 L96.60,411.35 L97.60,411.30 L98.60,411.26 L99.60,411.25 L100.60,411.26 L101.60,411.30 L102.60,411.35 L103.60,411.42 L104.60,411.52 L105.60,411.63 L106.60,411.77 L107.60,411.92 L108.60,412.10 L109.60,412.29 L110.60,412.51 L111.60,412.74 L112.60,413.00 L113.60,413.27 L114.60,413.57 L115.60,413.88 L116.60,414.22 L117.60,414.57 L118.60,414.94 L119.60,415.34 L120.60,415.75 L121.60,416.18 L122.60,416.62 L123.60,417.09 L124.60,417.58 L125.60,418.08 L126.60,418.60 L127.60,419.15 L128.60,419.70 L129.60,420.28 L130.60,420.88 L131.60,421.49 L132.60,422.12 L133.60,422.77 L134.60,423.44 L135.60,424.12 L136.60,424.82 L137.60,425.54 L138.60,426.27 L139.60,427.03 L140.60,427.79 L141.60,428.58 L142.60,429.38 L143.60,430.20 L144.60,431.04 L145.60,431.89 L146.60,432.76 L147.60,433.65 L148.60,434.55 L149.60,435.46 L150.60,436.40 L151.60,437.35 L152.60,438.31 L153.60,439.29 L154.60,440.29 L155.60,441.30 L156.60,442.32 L157.60,443.36 L158.60,444.42 L159.60,445.49 L160.60,446.58 L161.60,447.68 L162.60,448.80 L163.60,449.93 L164.60,451.07 L165.60,452.23 L166.60,453.40 L167.60,454.59 L168.60,455.79 L169.60,457.01 L170.60,458.24 L171.60,459.48 L172.60,460.74 L173.60,462.01 L174.60,463.29 L175.60,464.58 L176.60,465.89 L177.60,467.21 L178.60,468.55 L179.60,469.89 L180.60,471.25 L181.60,472.62 L182.60,474.00 L183.60,475.39 L184.60,476.80 L185.60,478.21 L186.60,479.64 L187.60,481.07 L188.60,482.52 L189.60,483.98 L190.60,485.45 L191.60,486.92 L192.60,488.41 L193.60,489.91 L194.60,491.41 L195.60,492.93 L196.60,494.45 L197.60,495.99 L198.60,497.53 L199.60,499.08 L200.60,500.64 L201.60,502.20 L202.60,503.78 L203.60,505.36 L204.60,506.95 L205.60,508.55 L206.60,510.15 L207.60,511.76 L208.60,513.38 L209.60,515.00 L210.60,516.63 L211.60,518.27 L212.60,519.91 L213.60,521.56 L214.60,523.22 L215.60,524.88 L216.60,526.54 L217.60,528.21 L218.60,529.89 L219.60,531.57 L220.60,533.25 L221.60,534.94 L222.60,536.64 L223.60,538.33 L224.60,540.03 L225.60,541.74 L226.60,543.45 L227.60,545.16 L228.60,546.87 L229.60,548.59 L230.60,550.31 L231.60,552.03 L232.60,553.76 L233.60,555.48 L234.60,557.21 L235.60,558.94 L236.60,560.67 L237.60,562.41 L238.60,564.14 L239.60,565.87 L240.60,567.61 L241.60,569.34 L242.60,571.08 L243.60,572.81 L244.60,574.54 L245.60,576.27 L246.60,578.00 L247.60,579.72 L248.60,581.44 L249.60,583.16 L250.60,584.87 L251.60,586.58 L252.60,588.28 L253.60,589.98 L254.60,591.68 L255.60,593.36 L256.60,595.05 L257.60,596.72 L258.60,598.39 L259.60,600.05 L260.60,601.70 L261.60,603.34 L262.60,604.97 L263.60,606.60 L264.60,608.21 L265.60,609.82 L266.60,611.42 L267.60,613.00 L268.60,614.57 L269.60,616.13 L270.60,617.68 L271.60,619.22 L272.60,620.74 L273.60,622.25 L274.60,623.75 L275.60,625.23 L276.60,626.70 L277.60,628.15 L278.60,629.59 L279.60,631.01 L280.60,632.42 L281.60,633.81 L282.60,635.19 L283.60,636.54 L284.60,637.89 L285.60,639.21 L286.60,640.52 L287.60,641.81 L288.60,643.09 L289.60,644.35 L290.60,645.59 L291.60,646.82 L292.60,648.03 L293.60,649.22 L294.60,650.40 L295.60,651.56 L296.60,652.70 L297.60,653.82 L298.60,654.93 L299.60,656.02 L300.60,657.09 L301.60,658.14 L302.60,659.18 L303.60,660.19 L304.60,661.19 L305.60,662.17 L306.60,663.14 L307.60,664.08 L308.60,665.01 L309.60,665.92 L310.60,666.81 L311.60,667.68 L312.60,668.53 L313.60,669.37 L314.60,670.18 L315.60,670.98 L316.60,671.76 L317.60,672.51 L318.60,673.25 L319.60,673.97 L320.60,674.67 L321.60,675.35 L322.60,676.02 L323.60,676.66 L324.60,677.29 L325.60,677.90 L326.60,678.50 L327.60,679.08 L328.60,679.65 L329.60,680.20 L330.60,680.74 L331.60,681.26 L332.60,681.78 L333.60,682.28 L334.60,682.78 L335.60,683.26 L336.60,683.73 L337.60,684.20 L338.60,684.66 L339.60,685.11 L340.60,685.55 L341.60,685.99 L342.60,686.42 L343.40,686.76" fill="none" stroke="#dc143c" stroke-width="1.6" stroke-linejoin="round"/>
<path d="M37.60,440.01 L38.60,439.27 L39.60,438.54 L40.60,437.81 L41.60,437.09 L42.60,436.38 L43.60,435.68 L44.60,434.99 L45.60,434.30 L46.60,433.63 L47.60,432.96 L48.60,432.30 L49.60,431.66 L50.60,431.02 L51.60,430.39 L52.60,429.77 L53.60,429.16 L54.60,428.57 L55.60,427.98 L56.60,427.40 L57.60,426.84 L58.60,426.29 L59.60,425.75 L60.60,425.22 L61.60,424.71 L62.60,424.20 L63.60,423.71 L64.60,423.24 L65.60,422.77 L66.60,422.32 L67.60,421.88 L68.60,421.46 L69.60,421.05 L70.60,420.66 L71.60,420.28 L72.60,419.92 L73.60,419.57 L74.60,419.23 L75.60,418.92 L76.60,418.61 L77.60,418.33 L78.60,418.06 L79.60,417.80 L80.60,417.57 L81.60,417.35 L82.60,417.15 L83.60,416.96 L84.60,416.79 L85.60,416.64 L86.60,416.51 L87.60,416.39 L88.60,416.29 L89.60,416.20 L90.60,416.13 L91.60,416.08 L92.60,416.04 L93.60,416.02 L94.60,416.02 L95.60,416.04 L96.60,416.07 L97.60,416.11 L98.60,416.18 L99.60,416.25 L100.60,416.35 L101.60,416.46 L102.60,416.59 L103.60,416.73 L104.60,416.89 L105.60,417.07 L106.60,417.26 L107.60,417.47 L108.60,417.69 L109.60,417.93 L110.60,418.19 L111.60,418.46 L112.60,418.75 L113.60,419.05 L114.60,419.37 L115.60,419.71 L116.60,420.06 L117.60,420.43 L118.60,420.81 L119.60,421.20 L120.60,421.62 L121.60,422.05 L122.60,422.49 L123.60,422.95 L124.60,423.43 L125.60,423.92 L126.60,424.42 L127.60,424.94 L128.60,425.48 L129.60,426.03 L130.60,426.60 L131.60,427.18 L132.60,427.78 L133.60,428.39 L134.60,429.02 L135.60,429.66 L136.60,430.32 L137.60,430.99 L138.60,431.68 L139.60,432.38 L140.60,433.10 L141.60,433.83 L142.60,434.57 L143.60,435.34 L144.60,436.11 L145.60,436.90 L146.60,437.71 L147.60,438.53 L148.60,439.36 L149.60,440.21 L150.60,441.08 L151.60,441.95 L152.60,442.85 L153.60,443.75 L154.60,444.68 L155.60,445.61 L156.60,446.56 L157.60,447.53 L158.60,448.51 L159.60,449.50 L160.60,450.51 L161.60,451.53 L162.60,452.56 L163.60,453.61 L164.60,454.67 L165.60,455.75 L166.60,456.84 L167.60,457.94 L168.60,459.05 L169.60,460.18 L170.60,461.31 L171.60,462.47 L172.60,463.63 L173.60,464.80 L174.60,465.99 L175.60,467.19 L176.60,468.40 L177.60,469.62 L178.60,470.85 L179.60,472.09 L180.60,473.34 L181.60,474.61 L182.60,475.88 L183.60,477.16 L184.60,478.46 L185.60,479.76 L186.60,481.07 L187.60,482.39 L188.60,483.73 L189.60,485.07 L190.60,486.42 L191.60,487.77 L192.60,489.14 L193.60,490.51 L194.60,491.90 L195.60,493.29 L196.60,494.69 L197.60,496.09 L198.60,497.51 L199.60,498.93 L200.60,500.35 L201.60,501.79 L202.60,503.23 L203.60,504.68 L204.60,506.13 L205.60,507.59 L206.60,509.06 L207.60,510.53 L208.60,512.01 L209.60,513.50 L210.60,514.98 L211.60,516.48 L212.60,517.98 L213.60,519.48 L214.60,520.99 L215.60,522.50 L216.60,524.02 L217.60,525.54 L218.60,527.07 L219.60,528.60 L220.60,530.13 L221.60,531.67 L222.60,533.20 L223.60,534.75 L224.60,536.29 L225.60,537.84 L226.60,539.39 L227.60,540.94 L228.60,542.50 L229.60,544.05 L230.60,545.61 L231.60,547.17 L232.60,548.73 L233.60,550.30 L234.60,551.86 L235.60,553.43 L236.60,554.99 L237.60,556.56 L238.60,558.13 L239.60,559.69 L240.60,561.26 L241.60,562.83 L242.60,564.39 L243.60,565.96 L244.60,567.52 L245.60,569.09 L246.60,570.65 L247.60,572.21 L248.60,573.78 L249.60,575.33 L250.60,576.89 L251.60,578.45 L252.60,580.00 L253.60,581.55 L254.60,583.10 L255.60,584.65 L256.60,586.19 L257.60,587.73 L258.60,589.27 L259.60,590.80 L260.60,592.34 L261.60,593.86 L262.60,595.39 L263.60,596.90 L264.60,598.42 L265.60,599.93 L266.60,601.44 L267.60,602.94 L268.60,604.43 L269.60,605.93 L270.60,607.41 L271.60,608.89 L272.60,610.37 L273.60,611.84 L274.60,613.30 L275.60,614.76 L276.60,616.21 L277.60,617.65 L278.60,619.09 L279.60,620.52 L280.60,621.94 L281.60,623.36 L282.60,624.76 L283.60,626.16 L284.60,627.55 L285.60,628.94 L286.60,630.31 L287.60,631.67 L288.60,633.03 L289.60,634.38 L290.60,635.71 L291.60,637.04 L292.60,638.36 L293.60,639.66 L294.60,640.96 L295.60,642.24 L296.60,643.52 L297.60,644.78 L298.60,646.03 L299.60,647.27 L300.60,648.50 L301.60,649.71 L302.60,650.92 L303.60,652.11 L304.60,653.29 L305.60,654.45 L306.60,655.60 L307.60,656.74 L308.60,657.87 L309.60,658.98 L310.60,660.08 L311.60,661.16 L312.60,662.23 L313.60,663.28 L314.60,664.32 L315.60,665.34 L316.60,666.35 L317.60,667.34 L318.60,668.31 L319.60,669.27 L320.60,670.22 L321.60,671.14 L322.60,672.06 L323.60,672.95 L324.60,673.83 L325.60,674.70 L326.60,675.55 L327.60,676.39 L328.60,677.21 L329.60,678.02 L330.60,678.82 L331.60,679.61 L332.60,680.38 L333.60,681.14 L334.60,681.89 L335.60,682.64 L336.60,683.36 L337.60,684.08 L338.60,684.79 L339.60,685.49 L340.60,686.19 L341.60,686.87 L342.60,687.54 L343.40,688.08" fill="none" stroke="#4169e1" stroke-width="1.6" stroke-linejoin="round"/>
<path d="M37.60,435.32 L38.60,434.92 L39.60,434.51 L40.60,434.12 L41.60,433.74 L42.60,433.37 L43.60,433.00 L44.60,432.65 L45.60,432.30 L46.60,431.97 L47.60,431.64 L48.60,431.32 L49.60,431.01 L50.60,430.72 L51.60,430.43 L52.60,430.15 L53.60,429.88 L54.60,429.63 L55.60,429.38 L56.60,429.14 L57.60,428.91 L58.60,428.70 L59.60,428.49 L60.60,428.30 L61.60,428.11 L62.60,427.94 L63.60,427.77 L64.60,427.62 L65.60,427.48 L66.60,427.35 L67.60,427.23 L68.60,427.12 L69.60,427.02 L70.60,426.94 L71.60,426.86 L72.60,426.80 L73.60,426.75 L74.60,426.71 L75.60,426.68 L76.60,426.67 L77.60,426.66 L78.60,426.67 L79.60,426.69 L80.60,426.72 L81.60,426.77 L82.60,426.82 L83.60,426.89 L84.60,426.98 L85.60,427.07 L86.60,427.18 L87.60,427.30 L88.60,427.43 L89.60,427.57 L90.60,427.73 L91.60,427.90 L92.60,428.09 L93.60,428.28 L94.60,428.49 L95.60,428.72 L96.60,428.95 L97.60,429.20 L98.60,429.47 L99.60,429.75 L100.60,430.04 L101.60,430.34 L102.60,430.66 L103.60,430.99 L104.60,431.34 L105.60,431.70 L106.60,432.07 L107.60,432.46 L108.60,432.86 L109.60,433.27 L110.60,433.69 L111.60,434.13 L112.60,434.58 L113.60,435.05 L114.60,435.53 L115.60,436.02 L116.60,436.52 L117.60,437.04 L118.60,437.57 L119.60,438.11 L120.60,438.66 L121.60,439.23 L122.60,439.80 L123.60,440.39 L124.60,441.00 L125.60,441.61 L126.60,442.24 L127.60,442.88 L128.60,443.53 L129.60,444.19 L130.60,444.87 L131.60,445.56 L132.60,446.26 L133.60,446.97 L134.60,447.69 L135.60,448.42 L136.60,449.17 L137.60,449.92 L138.60,450.69 L139.60,451.47 L140.60,452.26 L141.60,453.06 L142.60,453.88 L143.60,454.70 L144.60,455.54 L145.60,456.38 L146.60,457.24 L147.60,458.11 L148.60,458.99 L149.60,459.88 L150.60,460.78 L151.60,461.69 L152.60,462.61 L153.60,463.54 L154.60,464.48 L155.60,465.43 L156.60,466.39 L157.60,467.37 L158.60,468.35 L159.60,469.34 L160.60,470.34 L161.60,471.36 L162.60,472.38 L163.60,473.41 L164.60,474.45 L165.60,475.51 L166.60,476.57 L167.60,477.64 L168.60,478.72 L169.60,479.81 L170.60,480.91 L171.60,482.02 L172.60,483.13 L173.60,484.26 L174.60,485.40 L175.60,486.54 L176.60,487.70 L177.60,488.86 L178.60,490.03 L179.60,491.21 L180.60,492.40 L181.60,493.60 L182.60,494.81 L183.60,496.02 L184.60,497.25 L185.60,498.48 L186.60,499.72 L187.60,500.97 L188.60,502.23 L189.60,503.49 L190.60,504.77 L191.60,506.05 L192.60,507.34 L193.60,508.63 L194.60,509.94 L195.60,511.25 L196.60,512.57 L197.60,513.89 L198.60,515.23 L199.60,516.57 L200.60,517.91 L201.60,519.26 L202.60,520.62 L203.60,521.98 L204.60,523.35 L205.60,524.72 L206.60,526.10 L207.60,527.49 L208.60,528.88 L209.60,530.27 L210.60,531.67 L211.60,533.07 L212.60,534.48 L213.60,535.89 L214.60,537.30 L215.60,538.72 L216.60,540.14 L217.60,541.56 L218.60,542.99 L219.60,544.42 L220.60,545.85 L221.60,547.28 L222.60,548.72 L223.60,550.16 L224.60,551.60 L225.60,553.04 L226.60,554.49 L227.60,555.93 L228.60,557.38 L229.60,558.82 L230.60,560.27 L231.60,561.72 L232.60,563.17 L233.60,564.62 L234.60,566.07 L235.60,567.51 L236.60,568.96 L237.60,570.41 L238.60,571.86 L239.60,573.30 L240.60,574.75 L241.60,576.19 L242.60,577.63 L243.60,579.07 L244.60,580.51 L245.60,581.95 L246.60,583.38 L247.60,584.81 L248.60,586.24 L249.60,587.67 L250.60,589.09 L251.60,590.51 L252.60,591.92 L253.60,593.34 L254.60,594.75 L255.60,596.15 L256.60,597.55 L257.60,598.95 L258.60,600.34 L259.60,601.73 L260.60,603.11 L261.60,604.49 L262.60,605.86 L263.60,607.23 L264.60,608.59 L265.60,609.94 L266.60,611.29 L267.60,612.64 L268.60,613.97 L269.60,615.30 L270.60,616.63 L271.60,617.94 L272.60,619.25 L273.60,620.55 L274.60,621.85 L275.60,623.14 L276.60,624.41 L277.60,625.69 L278.60,626.95 L279.60,628.20 L280.60,629.45 L281.60,630.69 L282.60,631.91 L283.60,633.13 L284.60,634.34 L285.60,635.54 L286.60,636.73 L287.60,637.91 L288.60,639.08 L289.60,640.24 L290.60,641.39 L291.60,642.53 L292.60,643.66 L293.60,644.78 L294.60,645.88 L295.60,646.98 L296.60,648.07 L297.60,649.14 L298.60,650.20 L299.60,651.26 L300.60,652.30 L301.60,653.33 L302.60,654.35 L303.60,655.35 L304.60,656.35 L305.60,657.34 L306.60,658.31 L307.60,659.27 L308.60,660.22 L309.60,661.16 L310.60,662.09 L311.60,663.01 L312.60,663.91 L313.60,664.81 L314.60,665.69 L315.60,666.56 L316.60,667.42 L317.60,668.26 L318.60,669.10 L319.60,669.92 L320.60,670.73 L321.60,671.53 L322.60,672.31 L323.60,673.08 L324.60,673.85 L325.60,674.59 L326.60,675.33 L327.60,676.05 L328.60,676.77 L329.60,677.46 L330.60,678.15 L331.60,678.82 L332.60,679.49 L333.60,680.14 L334.60,680.78 L335.60,681.41 L336.60,682.02 L337.60,682.63 L338.60,683.23 L339.60,683.83 L340.60,684.41 L341.60,684.98 L342.60,685.55 L343.40,686.00" fill="none" stroke="#daa520" stroke-width="1.6" stroke-linejoin="round"/>
<path d="M37.60,436.92 L38.60,437.63 L39.60,438.35 L40.60,439.07 L41.60,439.79 L42.60,440.52 L43.60,441.26 L44.60,441.99 L45.60,442.73 L46.60,443.47 L47.60,444.22 L48.60,444.97 L49.60,445.72 L50.60,446.48 L51.60,447.24 L52.60,448.01 L53.60,448.77 L54.60,449.54 L55.60,450.32 L56.60,451.10 L57.60,451.88 L58.60,452.66 L59.60,453.45 L60.60,454.24 L61.60,455.03 L62.60,455.83 L63.60,456.63 L64.60,457.44 L65.60,458.24 L66.60,459.05 L67.60,459.87 L68.60,460.68 L69.60,461.50 L70.60,462.32 L71.60,463.15 L72.60,463.97 L73.60,464.80 L74.60,465.64 L75.60,466.47 L76.60,467.31 L77.60,468.16 L78.60,469.00 L79.60,469.85 L80.60,470.70 L81.60,471.55 L82.60,472.40 L83.60,473.26 L84.60,474.12 L85.60,474.98 L86.60,475.85 L87.60,476.72 L88.60,477.59 L89.60,478.46 L90.60,479.33 L91.60,480.21 L92.60,481.09 L93.60,481.97 L94.60,482.86 L95.60,483.74 L96.60,484.63 L97.60,485.52 L98.60,486.42 L99.60,487.31 L100.60,488.21 L101.60,489.11 L102.60,490.01 L103.60,490.91 L104.60,491.82 L105.60,492.72 L106.60,493.63 L107.60,494.54 L108.60,495.46 L109.60,496.37 L110.60,497.29 L111.60,498.21 L112.60,499.13 L113.60,500.05 L114.60,500.97 L115.60,501.90 L116.60,502.82 L117.60,503.75 L118.60,504.68 L119.60,505.61 L120.60,506.55 L121.60,507.48 L122.60,508.42 L123.60,509.36 L124.60,510.29 L125.60,511.23 L126.60,512.18 L127.60,513.12 L128.60,514.06 L129.60,515.01 L130.60,515.96 L131.60,516.90 L132.60,517.85 L133.60,518.80 L134.60,519.75 L135.60,520.71 L136.60,521.66 L137.60,522.62 L138.60,523.57 L139.60,524.53 L140.60,525.48 L141.60,526.44 L142.60,527.40 L143.60,528.36 L144.60,529.32 L145.60,530.29 L146.60,531.25 L147.60,532.21 L148.60,533.18 L149.60,534.14 L150.60,535.11 L151.60,536.07 L152.60,537.04 L153.60,538.01 L154.60,538.97 L155.60,539.94 L156.60,540.91 L157.60,541.88 L158.60,542.85 L159.60,543.82 L160.60,544.79 L161.60,545.76 L162.60,546.73 L163.60,547.70 L164.60,548.68 L165.60,549.65 L166.60,550.62 L167.60,551.59 L168.60,552.57 L169.60,553.54 L170.60,554.51 L171.60,555.48 L172.60,556.46 L173.60,557.43 L174.60,558.40 L175.60,559.37 L176.60,560.35 L177.60,561.32 L178.60,562.29 L179.60,563.26 L180.60,564.24 L181.60,565.21 L182.60,566.18 L183.60,567.15 L184.60,568.12 L185.60,569.09 L186.60,570.06 L187.60,571.03 L188.60,572.00 L189.60,572.97 L190.60,573.94 L191.60,574.91 L192.60,575.88 L193.60,576.84 L194.60,577.81 L195.60,578.77 L196.60,579.74 L197.60,580.70 L198.60,581.67 L199.60,582.63 L200.60,583.59 L201.60,584.55 L202.60,585.52 L203.60,586.47 L204.60,587.43 L205.60,588.39 L206.60,589.35 L207.60,590.30 L208.60,591.26 L209.60,592.21 L210.60,593.17 L211.60,594.12 L212.60,595.07 L213.60,596.02 L214.60,596.97 L215.60,597.91 L216.60,598.86 L217.60,599.80 L218.60,600.75 L219.60,601.69 L220.60,602.63 L221.60,603.57 L222.60,604.50 L223.60,605.44 L224.60,606.37 L225.60,607.30 L226.60,608.23 L227.60,609.16 L228.60,610.09 L229.60,611.01 L230.60,611.93 L231.60,612.85 L232.60,613.77 L233.60,614.69 L234.60,615.60 L235.60,616.51 L236.60,617.42 L237.60,618.33 L238.60,619.24 L239.60,620.14 L240.60,621.04 L241.60,621.93 L242.60,622.83 L243.60,623.72 L244.60,624.61 L245.60,625.50 L246.60,626.38 L247.60,627.26 L248.60,628.14 L249.60,629.02 L250.60,629.89 L251.60,630.76 L252.60,631.63 L253.60,632.49 L254.60,633.35 L255.60,634.21 L256.60,635.06 L257.60,635.91 L258.60,636.76 L259.60,637.60 L260.60,638.44 L261.60,639.28 L262.60,640.11 L263.60,640.94 L264.60,641.77 L265.60,642.59 L266.60,643.41 L267.60,644.22 L268.60,645.04 L269.60,645.84 L270.60,646.65 L271.60,647.45 L272.60,648.24 L273.60,649.03 L274.60,649.82 L275.60,650.61 L276.60,651.38 L277.60,652.16 L278.60,652.93 L279.60,653.70 L280.60,654.46 L281.60,655.22 L282.60,655.97 L283.60,656.72 L284.60,657.46 L285.60,658.20 L286.60,658.94 L287.60,659.67 L288.60,660.39 L289.60,661.11 L290.60,661.83 L291.60,662.54 L292.60,663.24 L293.60,663.94 L294.60,664.64 L295.60,665.33 L296.60,666.02 L297.60,666.70 L298.60,667.37 L299.60,668.04 L300.60,668.70 L301.60,669.36 L302.60,670.02 L303.60,670.66 L304.60,671.31 L305.60,671.94 L306.60,672.58 L307.60,673.20 L308.60,673.82 L309.60,674.44 L310.60,675.04 L311.60,675.65 L312.60,676.24 L313.60,676.83 L314.60,677.42 L315.60,678.00 L316.60,678.57 L317.60,679.14 L318.60,679.70 L319.60,680.25 L320.60,680.80 L321.60,681.34 L322.60,681.87 L323.60,682.40 L324.60,682.92 L325.60,683.44 L326.60,683.95 L327.60,684.45 L328.60,684.95 L329.60,685.43 L330.60,685.92 L331.60,686.39 L332.60,686.86 L333.60,687.32 L334.60,687.78 L335.60,688.22 L336.60,688.66 L337.60,689.10 L338.60,689.52 L339.60,689.94 L340.60,690.35 L341.60,690.76 L342.60,691.16 L343.40,691.47" fill="none" stroke="#3cb371" stroke-width="1.6" stroke-linejoin="round"/>
</g>
<rect x="37.60" y="396.10" width="305.80" height="321.10" fill="none" stroke="#999999" stroke-width="1.25"/>
<line x1="35.40" y1="432.70" x2="37.60" y2="432.70" stroke="#9a9a9a" stroke-width="0.8"/>
<text x="34.00" y="436.15" font-size="10.0" text-anchor="end" fill="#262626" font-family='"Liberation Sans", sans-serif' font-weight="normal" stroke="#262626" stroke-width="0.25" textLength="5.20" lengthAdjust="spacingAndGlyphs">0</text>
<line x1="35.40" y1="499.82" x2="37.60" y2="499.82" stroke="#9a9a9a" stroke-width="0.8"/>
<text x="34.00" y="503.27" font-size="10.0" text-anchor="end" fill="#262626" font-family='"Liberation Sans", sans-serif' font-weight="normal" stroke="#262626" stroke-width="0.25" textLength="18.60" lengthAdjust="spacingAndGlyphs">−20</text>
<line x1="35.40" y1="566.94" x2="37.60" y2="566.94" stroke="#9a9a9a" stroke-width="0.8"/>
<text x="34.00" y="570.39" font-size="10.0" text-anchor="end" fill="#262626" font-family='"Liberation Sans", sans-serif' font-weight="normal" stroke="#262626" stroke-width="0.25" textLength="18.60" lengthAdjust="spacingAndGlyphs">−40</text>
<line x1="35.40" y1="634.06" x2="37.60" y2="634.06" stroke="#9a9a9a" stroke-width="0.8"/>
<text x="34.00" y="637.51" font-size="10.0" text-anchor="end" fill="#262626" font-family='"Liberation Sans", sans-serif' font-weight="normal" stroke="#262626" stroke-width="0.25" textLength="18.60" lengthAdjust="spacingAndGlyphs">−60</text>
<line x1="35.40" y1="701.18" x2="37.60" y2="701.18" stroke="#9a9a9a" stroke-width="0.8"/>
<text x="34.00" y="704.63" font-size="10.0" text-anchor="end" fill="#262626" font-family='"Liberation Sans", sans-serif' font-weight="normal" stroke="#262626" stroke-width="0.25" textLength="18.60" lengthAdjust="spacingAndGlyphs">−80</text>
<line x1="37.60" y1="717.20" x2="37.60" y2="719.40" stroke="#9a9a9a" stroke-width="0.8"/>
<text x="37.60" y="728.00" font-size="10.0" text-anchor="middle" fill="#262626" font-family='"Liberation Sans", sans-serif' font-weight="normal" stroke="#262626" stroke-width="0.25" textLength="23.20" lengthAdjust="spacingAndGlyphs">2025</text>
<line x1="84.68" y1="717.20" x2="84.68" y2="719.40" stroke="#9a9a9a" stroke-width="0.8"/>
<text x="84.68" y="728.00" font-size="10.0" text-anchor="middle" fill="#262626" font-family='"Liberation Sans", sans-serif' font-weight="normal" stroke="#262626" stroke-width="0.25" textLength="23.20" lengthAdjust="spacingAndGlyphs">2035</text>
<line x1="131.76" y1="717.20" x2="131.76" y2="719.40" stroke="#9a9a9a" stroke-width="0.8"/>
<text x="131.76" y="728.00" font-size="10.0" text-anchor="middle" fill="#262626" font-family='"Liberation Sans", sans-serif' font-weight="normal" stroke="#262626" stroke-width="0.25" textLength="23.20" lengthAdjust="spacingAndGlyphs">2045</text>
<line x1="178.84" y1="717.20" x2="178.84" y2="719.40" stroke="#9a9a9a" stroke-width="0.8"/>
<text x="178.84" y="728.00" font-size="10.0" text-anchor="middle" fill="#262626" font-family='"Liberation Sans", sans-serif' font-weight="normal" stroke="#262626" stroke-width="0.25" textLength="23.20" lengthAdjust="spacingAndGlyphs">2055</text>
<line x1="225.92" y1="717.20" x2="225.92" y2="719.40" stroke="#9a9a9a" stroke-width="0.8"/>
<text x="225.92" y="728.00" font-size="10.0" text-anchor="middle" fill="#262626" font-family='"Liberation Sans", sans-serif' font-weight="normal" stroke="#262626" stroke-width="0.25" textLength="23.20" lengthAdjust="spacingAndGlyphs">2065</text>
<line x1="273.00" y1="717.20" x2="273.00" y2="719.40" stroke="#9a9a9a" stroke-width="0.8"/>
<text x="273.00" y="728.00" font-size="10.0" text-anchor="middle" fill="#262626" font-family='"Liberation Sans", sans-serif' font-weight="normal" stroke="#262626" stroke-width="0.25" textLength="23.20" lengthAdjust="spacingAndGlyphs">2075</text>
<line x1="320.08" y1="717.20" x2="320.08" y2="719.40" stroke="#9a9a9a" stroke-width="0.8"/>
<text x="320.08" y="728.00" font-size="10.0" text-anchor="middle" fill="#262626" font-family='"Liberation Sans", sans-serif' font-weight="normal" stroke="#262626" stroke-width="0.25" textLength="23.20" lengthAdjust="spacingAndGlyphs">2085</text>
<text x="9.90" y="556.30" font-size="9.5" text-anchor="middle" fill="#262626" font-family='"Liberation Sans", sans-serif' font-weight="normal" stroke="#262626" stroke-width="0.25" textLength="204.70" lengthAdjust="spacingAndGlyphs" transform="rotate(-90 9.90 556.30)">Percentage Change in Yearly Cancer Cases</text>
<rect x="276.10" y="399.70" width="63.10" height="60.70" rx="2" ry="2" fill="#ffffff" fill-opacity="0.8" stroke="#dcdcdc" stroke-width="0.8"/>
<text x="307.95" y="409.10" font-size="8.4" text-anchor="middle" fill="#262626" font-family='"Liberation Sans", sans-serif' font-weight="normal" stroke="#262626" stroke-width="0.25" textLength="51.40" lengthAdjust="spacingAndGlyphs">HPV-DNA test</text>
<line x1="277.80" y1="418.00" x2="294.80" y2="418.00" stroke="#dc143c" stroke-width="1.5"/>
<text x="300.60" y="421.00" font-size="8.4" text-anchor="start" fill="#262626" font-family='"Liberation Sans", sans-serif' font-weight="normal" stroke="#262626" stroke-width="0.25" textLength="9.90" lengthAdjust="spacingAndGlyphs">No</text>
<line x1="277.80" y1="429.80" x2="294.80" y2="429.80" stroke="#4169e1" stroke-width="1.5"/>
<text x="300.60" y="432.80" font-size="8.4" text-anchor="start" fill="#262626" font-family='"Liberation Sans", sans-serif' font-weight="normal" stroke="#262626" stroke-width="0.25" textLength="19.20" lengthAdjust="spacingAndGlyphs">Once</text>
<line x1="277.80" y1="441.60" x2="294.80" y2="441.60" stroke="#daa520" stroke-width="1.5"/>
<text x="300.60" y="444.60" font-size="8.4" text-anchor="start" fill="#262626" font-family='"Liberation Sans", sans-serif' font-weight="normal" stroke="#262626" stroke-width="0.25" textLength="19.80" lengthAdjust="spacingAndGlyphs">Twice</text>
<line x1="277.80" y1="453.40" x2="294.80" y2="453.40" stroke="#3cb371" stroke-width="1.5"/>
<text x="300.60" y="456.40" font-size="8.4" text-anchor="start" fill="#262626" font-family='"Liberation Sans", sans-serif' font-weight="normal" stroke="#262626" stroke-width="0.25" textLength="35.60" lengthAdjust="spacingAndGlyphs">Every 5-y</text>
<rect x="376.00" y="396.20" width="305.90" height="320.80" fill="none" stroke="#999999" stroke-width="1.25"/>
<line x1="373.80" y1="690.30" x2="376.00" y2="690.30" stroke="#9a9a9a" stroke-width="0.8"/>
<text x="372.00" y="693.75" font-size="10.0" text-anchor="end" fill="#262626" font-family='"Liberation Sans", sans-serif' font-weight="normal" stroke="#262626" stroke-width="0.25" textLength="5.20" lengthAdjust="spacingAndGlyphs">2</text>
<line x1="373.80" y1="635.76" x2="376.00" y2="635.76" stroke="#9a9a9a" stroke-width="0.8"/>
<text x="372.00" y="639.21" font-size="10.0" text-anchor="end" fill="#262626" font-family='"Liberation Sans", sans-serif' font-weight="normal" stroke="#262626" stroke-width="0.25" textLength="5.20" lengthAdjust="spacingAndGlyphs">4</text>
<line x1="373.80" y1="581.22" x2="376.00" y2="581.22" stroke="#9a9a9a" stroke-width="0.8"/>
<text x="372.00" y="584.67" font-size="10.0" text-anchor="end" fill="#262626" font-family='"Liberation Sans", sans-serif' font-weight="normal" stroke="#262626" stroke-width="0.25" textLength="5.20" lengthAdjust="spacingAndGlyphs">6</text>
<line x1="373.80" y1="526.68" x2="376.00" y2="526.68" stroke="#9a9a9a" stroke-width="0.8"/>
<text x="372.00" y="530.13" font-size="10.0" text-anchor="end" fill="#262626" font-family='"Liberation Sans", sans-serif' font-weight="normal" stroke="#262626" stroke-width="0.25" textLength="5.20" lengthAdjust="spacingAndGlyphs">8</text>
<line x1="373.80" y1="472.14" x2="376.00" y2="472.14" stroke="#9a9a9a" stroke-width="0.8"/>
<text x="372.00" y="475.59" font-size="10.0" text-anchor="end" fill="#262626" font-family='"Liberation Sans", sans-serif' font-weight="normal" stroke="#262626" stroke-width="0.25" textLength="10.60" lengthAdjust="spacingAndGlyphs">10</text>
<line x1="373.80" y1="417.60" x2="376.00" y2="417.60" stroke="#9a9a9a" stroke-width="0.8"/>
<text x="372.00" y="421.05" font-size="10.0" text-anchor="end" fill="#262626" font-family='"Liberation Sans", sans-serif' font-weight="normal" stroke="#262626" stroke-width="0.25" textLength="10.60" lengthAdjust="spacingAndGlyphs">12</text>
<line x1="427.00" y1="717.00" x2="427.00" y2="719.20" stroke="#9a9a9a" stroke-width="0.8"/>
<text x="426.80" y="728.10" font-size="10.0" text-anchor="middle" fill="#262626" font-family='"Liberation Sans", sans-serif' font-weight="normal" stroke="#262626" stroke-width="0.25" textLength="49.70" lengthAdjust="spacingAndGlyphs">Scenario 2</text>
<line x1="529.00" y1="717.00" x2="529.00" y2="719.20" stroke="#9a9a9a" stroke-width="0.8"/>
<text x="528.80" y="728.10" font-size="10.0" text-anchor="middle" fill="#262626" font-family='"Liberation Sans", sans-serif' font-weight="normal" stroke="#262626" stroke-width="0.25" textLength="49.70" lengthAdjust="spacingAndGlyphs">Scenario 3</text>
<line x1="630.90" y1="717.00" x2="630.90" y2="719.20" stroke="#9a9a9a" stroke-width="0.8"/>
<text x="630.70" y="728.10" font-size="10.0" text-anchor="middle" fill="#262626" font-family='"Liberation Sans", sans-serif' font-weight="normal" stroke="#262626" stroke-width="0.25" textLength="49.70" lengthAdjust="spacingAndGlyphs">Scenario 4</text>
<text x="355.40" y="556.90" font-size="9.5" text-anchor="middle" fill="#262626" font-family='"Liberation Sans", sans-serif' font-weight="normal" stroke="#262626" stroke-width="0.25" textLength="149.80" lengthAdjust="spacingAndGlyphs" transform="rotate(-90 355.40 556.90)">Thickness of Min-Max Envelope</text>
<line x1="426.90" y1="591.90" x2="426.90" y2="598.20" stroke="#6a6a6a" stroke-width="1.0"/>
<line x1="426.90" y1="625.30" x2="426.90" y2="664.70" stroke="#6a6a6a" stroke-width="1.0"/>
<line x1="419.10" y1="591.90" x2="434.70" y2="591.90" stroke="#6a6a6a" stroke-width="1.0"/>
<line x1="419.10" y1="664.70" x2="434.70" y2="664.70" stroke="#6a6a6a" stroke-width="1.0"/>
<rect x="411.40" y="598.20" width="31.00" height="27.10" fill="#4169e1" stroke="#404040" stroke-width="0.9"/>
<line x1="411.40" y1="609.30" x2="442.40" y2="609.30" stroke="#000" stroke-opacity="0.68" stroke-width="1.6"/>
<circle cx="426.90" cy="673.40" r="1.65" fill="none" stroke="#444" stroke-width="0.8"/>
<circle cx="426.90" cy="682.30" r="1.65" fill="none" stroke="#444" stroke-width="0.8"/>
<circle cx="426.90" cy="691.10" r="1.65" fill="none" stroke="#444" stroke-width="0.8"/>
<circle cx="426.90" cy="700.70" r="1.65" fill="none" stroke="#444" stroke-width="0.8"/>
<line x1="529.00" y1="564.30" x2="529.00" y2="603.70" stroke="#6a6a6a" stroke-width="1.0"/>
<line x1="529.00" y1="661.40" x2="529.00" y2="702.50" stroke="#6a6a6a" stroke-width="1.0"/>
<line x1="521.20" y1="564.30" x2="536.80" y2="564.30" stroke="#6a6a6a" stroke-width="1.0"/>
<line x1="521.20" y1="702.50" x2="536.80" y2="702.50" stroke="#6a6a6a" stroke-width="1.0"/>
<rect x="513.50" y="603.70" width="31.00" height="57.70" fill="#daa520" stroke="#404040" stroke-width="0.9"/>
<line x1="513.50" y1="625.10" x2="544.50" y2="625.10" stroke="#000" stroke-opacity="0.68" stroke-width="1.6"/>
<line x1="630.90" y1="410.50" x2="630.90" y2="451.80" stroke="#6a6a6a" stroke-width="1.0"/>
<line x1="630.90" y1="618.70" x2="630.90" y2="668.70" stroke="#6a6a6a" stroke-width="1.0"/>
<line x1="623.10" y1="410.50" x2="638.70" y2="410.50" stroke="#6a6a6a" stroke-width="1.0"/>
<line x1="623.10" y1="668.70" x2="638.70" y2="668.70" stroke="#6a6a6a" stroke-width="1.0"/>
<rect x="615.40" y="451.80" width="31.00" height="166.90" fill="#3cb371" stroke="#404040" stroke-width="0.9"/>
<line x1="615.40" y1="530.90" x2="646.40" y2="530.90" stroke="#000" stroke-opacity="0.68" stroke-width="1.6"/>
<text x="259.0" y="758.7" font-size="16.8" fill="#111" stroke="#111" stroke-width="0.15" font-family='"Liberation Sans", sans-serif' font-weight="bold" textLength="22.6" lengthAdjust="spacingAndGlyphs">(b)</text>
<text x="288.0" y="758.7" font-size="16.2" fill="#111" stroke="#111" stroke-width="0.25" font-family='"Liberation Serif", serif' textLength="132.4" lengthAdjust="spacingAndGlyphs">Yearly cancer cases</text>
</svg></body></html>
